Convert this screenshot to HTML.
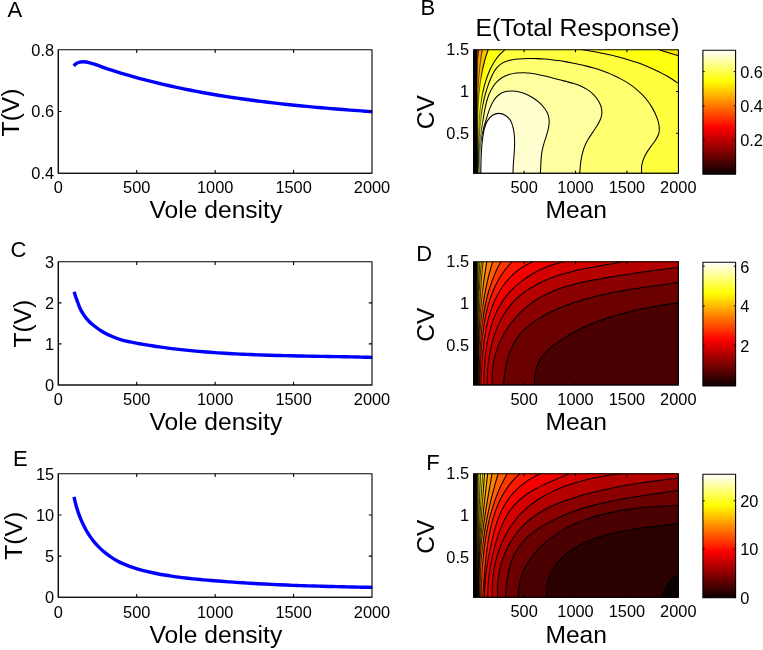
<!DOCTYPE html>
<html><head><meta charset="utf-8"><title>Figure</title>
<style>html,body{margin:0;padding:0;background:#fff;}svg{display:block;will-change:transform;}text{font-family:"Liberation Sans", sans-serif;fill:#000;}</style>
</head><body>
<svg width="763" height="650" viewBox="0 0 763 650">
<rect width="763" height="650" fill="#fff"/>
<path d="M73.6 65.8 C73.87 65.57 74.6 64.87 75.2 64.4 C75.8 63.93 76.43 63.38 77.2 63 C77.97 62.62 78.87 62.3 79.8 62.1 C80.73 61.9 81.73 61.82 82.8 61.8 C83.87 61.78 85.07 61.83 86.2 62 C87.33 62.17 88.38 62.48 89.6 62.8 C90.82 63.12 92.18 63.5 93.5 63.9 C94.82 64.3 96.1 64.7 97.5 65.2 C98.9 65.7 100.48 66.37 101.9 66.9 C103.32 67.43 104.16 67.78 106 68.4 C107.84 69.03 110.64 69.91 112.96 70.65 C115.28 71.38 117.61 72.1 119.94 72.81 C122.27 73.51 124.61 74.21 126.95 74.89 C129.28 75.57 131.62 76.24 133.97 76.89 C136.31 77.54 138.66 78.18 141.01 78.81 C143.37 79.44 145.72 80.06 148.08 80.66 C150.44 81.27 152.8 81.86 155.16 82.44 C157.52 83.02 159.89 83.59 162.26 84.14 C164.63 84.7 167 85.25 169.38 85.78 C171.75 86.31 174.13 86.84 176.51 87.35 C178.89 87.86 181.27 88.36 183.66 88.85 C186.04 89.34 188.43 89.82 190.82 90.29 C193.21 90.76 195.6 91.22 197.99 91.67 C200.39 92.12 202.78 92.56 205.18 92.99 C207.58 93.42 209.98 93.84 212.38 94.26 C214.79 94.67 217.19 95.07 219.6 95.46 C222 95.86 224.41 96.24 226.82 96.62 C229.23 97 231.64 97.36 234.05 97.72 C236.46 98.08 238.88 98.44 241.29 98.78 C243.71 99.12 246.13 99.46 248.54 99.79 C250.96 100.12 253.38 100.44 255.8 100.75 C258.22 101.07 260.64 101.37 263.07 101.67 C265.49 101.97 267.91 102.26 270.34 102.55 C272.76 102.84 275.18 103.12 277.61 103.39 C280.04 103.67 282.46 103.93 284.89 104.2 C287.32 104.46 289.75 104.71 292.17 104.97 C294.6 105.22 297.03 105.46 299.46 105.7 C301.89 105.94 304.32 106.18 306.75 106.41 C309.18 106.64 311.61 106.86 314.04 107.08 C316.47 107.31 318.9 107.52 321.33 107.73 C323.76 107.95 326.19 108.15 328.62 108.36 C331.04 108.56 333.47 108.76 335.9 108.96 C338.33 109.16 340.76 109.35 343.19 109.54 C345.62 109.73 348.05 109.92 350.47 110.1 C352.9 110.29 355.33 110.47 357.75 110.65 C360.18 110.83 362.6 111.01 365.03 111.18 C367.45 111.36 371.09 111.61 372.3 111.7" fill="none" stroke="#0000ff" stroke-width="3.4" stroke-linejoin="round" stroke-linecap="butt"/>
<rect x="58.3" y="49.75" width="313.7" height="123.45" fill="none" stroke="#000" stroke-width="1.1" stroke-linejoin="round"/>
<path d="M58.3 49.75 V173.2 H372" fill="none" stroke="#000" stroke-width="1.1" stroke-linejoin="round" stroke-opacity="0.8"/>
<path d="M136.72 173.2 v-3.2 M136.72 49.75 v3.2" stroke="#000" stroke-width="1.1" fill="none"/>
<path d="M215.15 173.2 v-3.2 M215.15 49.75 v3.2" stroke="#000" stroke-width="1.1" fill="none"/>
<path d="M293.57 173.2 v-3.2 M293.57 49.75 v3.2" stroke="#000" stroke-width="1.1" fill="none"/>
<path d="M58.3 111.47 h3.2 M372 111.47 h-3.2" stroke="#000" stroke-width="1.1" fill="none"/>
<text transform="translate(54.1 179.2) scale(0.94 1)" font-size="17.4" text-anchor="end">0.4</text>
<text transform="translate(54.1 117.47) scale(0.94 1)" font-size="17.4" text-anchor="end">0.6</text>
<text transform="translate(54.1 55.75) scale(0.94 1)" font-size="17.4" text-anchor="end">0.8</text>
<text transform="translate(58.3 193.2) scale(0.94 1)" font-size="17.4" text-anchor="middle">0</text>
<text transform="translate(136.72 193.2) scale(0.94 1)" font-size="17.4" text-anchor="middle">500</text>
<text transform="translate(215.15 193.2) scale(0.94 1)" font-size="17.4" text-anchor="middle">1000</text>
<text transform="translate(293.57 193.2) scale(0.94 1)" font-size="17.4" text-anchor="middle">1500</text>
<text transform="translate(372 193.2) scale(0.94 1)" font-size="17.4" text-anchor="middle">2000</text>
<text x="215.9" y="218" font-size="24.6" text-anchor="middle">Vole density</text>
<text x="19.5" y="112.47" font-size="24.6" text-anchor="middle" transform="rotate(-90 19.5 112.47)">T(V)</text>
<text x="7.5" y="17" font-size="22" text-anchor="start">A</text>
<path d="M74.1 291.7 C74.33 292.45 75 294.72 75.5 296.2 C76 297.68 76.38 298.63 77.1 300.6 C77.82 302.57 78.78 305.68 79.85 308 C80.92 310.32 82.11 312.42 83.5 314.5 C84.89 316.58 86.5 318.67 88.2 320.5 C89.9 322.33 91.25 323.58 93.7 325.5 C96.15 327.42 99.82 330.17 102.9 332 C105.98 333.83 108.87 335.1 112.2 336.5 C115.53 337.9 119.91 339.5 122.9 340.4 C125.89 341.3 127.71 341.43 130.12 341.91 C132.52 342.39 134.93 342.86 137.35 343.31 C139.76 343.76 142.18 344.19 144.59 344.6 C147.01 345.02 149.43 345.41 151.85 345.79 C154.28 346.18 156.7 346.54 159.13 346.89 C161.55 347.24 163.98 347.58 166.41 347.9 C168.84 348.22 171.27 348.52 173.71 348.82 C176.14 349.11 178.57 349.39 181.01 349.66 C183.45 349.92 185.89 350.18 188.33 350.42 C190.77 350.66 193.21 350.9 195.65 351.12 C198.09 351.34 200.54 351.55 202.98 351.75 C205.43 351.94 207.87 352.13 210.32 352.31 C212.77 352.49 215.22 352.66 217.67 352.83 C220.12 352.99 222.57 353.14 225.02 353.29 C227.47 353.44 229.92 353.58 232.37 353.71 C234.82 353.84 237.28 353.96 239.73 354.08 C242.18 354.2 244.64 354.31 247.09 354.42 C249.55 354.52 252 354.62 254.46 354.72 C256.92 354.81 259.37 354.9 261.83 354.98 C264.28 355.07 266.74 355.14 269.2 355.22 C271.65 355.29 274.11 355.36 276.57 355.43 C279.03 355.5 281.48 355.56 283.94 355.62 C286.4 355.68 288.86 355.74 291.32 355.79 C293.77 355.85 296.23 355.9 298.69 355.95 C301.15 356 303.6 356.04 306.06 356.09 C308.52 356.14 310.98 356.18 313.43 356.22 C315.89 356.27 318.35 356.31 320.8 356.35 C323.26 356.4 325.71 356.44 328.17 356.48 C330.63 356.52 333.08 356.57 335.53 356.61 C337.99 356.65 340.44 356.7 342.9 356.74 C345.35 356.79 347.8 356.84 350.25 356.89 C352.71 356.94 355.16 356.99 357.61 357.04 C360.06 357.1 362.51 357.15 364.96 357.21 C367.41 357.27 371.08 357.37 372.3 357.4" fill="none" stroke="#0000ff" stroke-width="3.4" stroke-linejoin="round" stroke-linecap="butt"/>
<rect x="58.3" y="261.75" width="313.7" height="123.25" fill="none" stroke="#000" stroke-width="1.1" stroke-linejoin="round"/>
<path d="M58.3 261.75 V385 H372" fill="none" stroke="#000" stroke-width="1.1" stroke-linejoin="round" stroke-opacity="0.8"/>
<path d="M136.72 385 v-3.2 M136.72 261.75 v3.2" stroke="#000" stroke-width="1.1" fill="none"/>
<path d="M215.15 385 v-3.2 M215.15 261.75 v3.2" stroke="#000" stroke-width="1.1" fill="none"/>
<path d="M293.57 385 v-3.2 M293.57 261.75 v3.2" stroke="#000" stroke-width="1.1" fill="none"/>
<path d="M58.3 343.92 h3.2 M372 343.92 h-3.2" stroke="#000" stroke-width="1.1" fill="none"/>
<path d="M58.3 302.83 h3.2 M372 302.83 h-3.2" stroke="#000" stroke-width="1.1" fill="none"/>
<text transform="translate(54.1 391) scale(0.94 1)" font-size="17.4" text-anchor="end">0</text>
<text transform="translate(54.1 349.92) scale(0.94 1)" font-size="17.4" text-anchor="end">1</text>
<text transform="translate(54.1 308.83) scale(0.94 1)" font-size="17.4" text-anchor="end">2</text>
<text transform="translate(54.1 267.75) scale(0.94 1)" font-size="17.4" text-anchor="end">3</text>
<text transform="translate(58.3 405.4) scale(0.94 1)" font-size="17.4" text-anchor="middle">0</text>
<text transform="translate(136.72 405.4) scale(0.94 1)" font-size="17.4" text-anchor="middle">500</text>
<text transform="translate(215.15 405.4) scale(0.94 1)" font-size="17.4" text-anchor="middle">1000</text>
<text transform="translate(293.57 405.4) scale(0.94 1)" font-size="17.4" text-anchor="middle">1500</text>
<text transform="translate(372 405.4) scale(0.94 1)" font-size="17.4" text-anchor="middle">2000</text>
<text x="215.9" y="430.3" font-size="24.6" text-anchor="middle">Vole density</text>
<text x="31.5" y="323.68" font-size="24.6" text-anchor="middle" transform="rotate(-90 31.5 323.68)">T(V)</text>
<text x="10.6" y="257.2" font-size="22" text-anchor="start">C</text>
<path d="M74 496.8 C74.27 497.95 75 501.42 75.6 503.73 C76.2 506.03 76.87 508.35 77.62 510.63 C78.36 512.92 79.17 515.2 80.06 517.44 C80.95 519.69 81.91 521.91 82.96 524.09 C84 526.27 85.12 528.41 86.32 530.5 C87.53 532.58 88.81 534.63 90.18 536.6 C91.55 538.57 93.01 540.49 94.54 542.32 C96.08 544.16 97.7 545.93 99.39 547.61 C101.08 549.3 102.85 550.91 104.69 552.43 C106.52 553.94 108.43 555.38 110.39 556.71 C112.36 558.05 114.39 559.29 116.47 560.44 C118.55 561.59 120.69 562.64 122.86 563.62 C125.03 564.6 127.26 565.49 129.51 566.33 C131.75 567.17 134.05 567.92 136.35 568.63 C138.65 569.34 140.98 569.99 143.32 570.6 C145.65 571.2 148.01 571.76 150.36 572.28 C152.71 572.81 155.06 573.3 157.42 573.76 C159.77 574.22 162.13 574.65 164.49 575.05 C166.85 575.45 169.21 575.83 171.57 576.18 C173.94 576.53 176.3 576.86 178.67 577.17 C181.04 577.49 183.42 577.78 185.79 578.05 C188.17 578.33 190.54 578.59 192.92 578.84 C195.3 579.08 197.68 579.31 200.07 579.54 C202.45 579.76 204.84 579.97 207.22 580.17 C209.61 580.38 211.99 580.57 214.38 580.76 C216.77 580.95 219.16 581.13 221.55 581.31 C223.94 581.49 226.33 581.66 228.72 581.83 C231.11 582.01 233.5 582.17 235.89 582.34 C238.28 582.5 240.67 582.66 243.06 582.81 C245.45 582.97 247.84 583.11 250.23 583.26 C252.62 583.4 255.01 583.54 257.4 583.68 C259.8 583.81 262.19 583.94 264.58 584.07 C266.97 584.19 269.36 584.31 271.76 584.42 C274.15 584.54 276.54 584.65 278.93 584.76 C281.33 584.86 283.72 584.96 286.11 585.06 C288.51 585.16 290.9 585.26 293.29 585.35 C295.68 585.44 298.08 585.52 300.47 585.61 C302.86 585.69 305.26 585.77 307.65 585.85 C310.05 585.92 312.44 586 314.83 586.07 C317.23 586.14 319.62 586.21 322.02 586.28 C324.41 586.34 326.8 586.41 329.2 586.47 C331.59 586.53 333.99 586.59 336.38 586.65 C338.78 586.7 341.17 586.76 343.56 586.81 C345.96 586.87 348.35 586.92 350.75 586.97 C353.14 587.02 355.54 587.07 357.93 587.12 C360.33 587.17 362.72 587.21 365.12 587.26 C367.51 587.31 371.1 587.38 372.3 587.4" fill="none" stroke="#0000ff" stroke-width="3.4" stroke-linejoin="round" stroke-linecap="butt"/>
<rect x="58.3" y="473.75" width="313.7" height="123.55" fill="none" stroke="#000" stroke-width="1.1" stroke-linejoin="round"/>
<path d="M58.3 473.75 V597.3 H372" fill="none" stroke="#000" stroke-width="1.1" stroke-linejoin="round" stroke-opacity="0.8"/>
<path d="M136.72 597.3 v-3.2 M136.72 473.75 v3.2" stroke="#000" stroke-width="1.1" fill="none"/>
<path d="M215.15 597.3 v-3.2 M215.15 473.75 v3.2" stroke="#000" stroke-width="1.1" fill="none"/>
<path d="M293.57 597.3 v-3.2 M293.57 473.75 v3.2" stroke="#000" stroke-width="1.1" fill="none"/>
<path d="M58.3 556.12 h3.2 M372 556.12 h-3.2" stroke="#000" stroke-width="1.1" fill="none"/>
<path d="M58.3 514.93 h3.2 M372 514.93 h-3.2" stroke="#000" stroke-width="1.1" fill="none"/>
<text transform="translate(54.1 603.3) scale(0.94 1)" font-size="17.4" text-anchor="end">0</text>
<text transform="translate(54.1 562.12) scale(0.94 1)" font-size="17.4" text-anchor="end">5</text>
<text transform="translate(54.1 520.93) scale(0.94 1)" font-size="17.4" text-anchor="end">10</text>
<text transform="translate(54.1 479.75) scale(0.94 1)" font-size="17.4" text-anchor="end">15</text>
<text transform="translate(58.3 617.5) scale(0.94 1)" font-size="17.4" text-anchor="middle">0</text>
<text transform="translate(136.72 617.5) scale(0.94 1)" font-size="17.4" text-anchor="middle">500</text>
<text transform="translate(215.15 617.5) scale(0.94 1)" font-size="17.4" text-anchor="middle">1000</text>
<text transform="translate(293.57 617.5) scale(0.94 1)" font-size="17.4" text-anchor="middle">1500</text>
<text transform="translate(372 617.5) scale(0.94 1)" font-size="17.4" text-anchor="middle">2000</text>
<text x="215.9" y="642.5" font-size="24.6" text-anchor="middle">Vole density</text>
<text x="21.7" y="535.82" font-size="24.6" text-anchor="middle" transform="rotate(-90 21.7 535.82)">T(V)</text>
<text x="12.9" y="465.9" font-size="22" text-anchor="start">E</text>
<defs><linearGradient id="hot" x1="0" y1="1" x2="0" y2="0"><stop offset="0" stop-color="#0b0000"/><stop offset="0.375" stop-color="#ff0000"/><stop offset="0.75" stop-color="#ffff00"/><stop offset="1" stop-color="#ffffff"/></linearGradient></defs>
<clipPath id="clipB"><rect x="473.6" y="49.75" width="204.85" height="123.45"/></clipPath>
<g clip-path="url(#clipB)">
<rect x="473.6" y="49.75" width="204.85" height="123.45" fill="#ffdf00"/>
<defs><linearGradient id="bband" x1="0" y1="0" x2="1" y2="0"><stop offset="0" stop-color="#000"/><stop offset="0.5" stop-color="#100000"/><stop offset="0.62" stop-color="#a04000"/><stop offset="1" stop-color="#ff9900"/></linearGradient></defs>
<rect x="473.5" y="49" width="7" height="124" fill="url(#bband)"/>
<path d="M476.8 173 C476.82 162.5 476.78 128.27 476.9 110 C477.02 91.73 477.12 73.57 477.5 63.4 C477.88 53.23 478.92 51.4 479.2 49 L500 49 L500 173 Z" fill="#ff9f00" stroke="none"/>
<path d="M477 173 C477.02 171.71 477.08 167.83 477.11 165.24 C477.13 162.66 477.15 160.07 477.16 157.48 C477.16 154.89 477.16 152.3 477.16 149.71 C477.16 147.12 477.16 144.53 477.15 141.94 C477.15 139.35 477.14 136.76 477.14 134.17 C477.14 131.58 477.14 128.99 477.15 126.4 C477.16 123.81 477.17 121.21 477.19 118.62 C477.21 116.03 477.24 113.44 477.29 110.85 C477.33 108.27 477.39 105.68 477.46 103.09 C477.53 100.5 477.62 97.92 477.72 95.33 C477.83 92.75 477.95 90.16 478.1 87.58 C478.24 85 478.41 82.42 478.6 79.84 C478.8 77.26 479.01 74.68 479.26 72.11 C479.5 69.53 479.77 66.96 480.08 64.39 C480.38 61.82 480.72 59.25 481.09 56.69 C481.46 54.12 482.1 50.28 482.3 49 L500 49 L500 173 Z" fill="#ffbf00" stroke="none"/>
<path d="M477.3 173 C477.33 171.71 477.44 167.84 477.48 165.25 C477.53 162.65 477.55 160.06 477.57 157.45 C477.58 154.85 477.58 152.24 477.58 149.63 C477.58 147.02 477.57 144.41 477.57 141.79 C477.57 139.17 477.56 136.55 477.56 133.93 C477.57 131.31 477.57 128.69 477.6 126.07 C477.63 123.45 477.66 120.83 477.72 118.22 C477.78 115.6 477.85 112.98 477.95 110.37 C478.05 107.76 478.18 105.15 478.34 102.54 C478.5 99.94 478.68 97.34 478.91 94.75 C479.14 92.15 479.4 89.56 479.72 86.98 C480.03 84.4 480.38 81.83 480.78 79.27 C481.19 76.7 481.64 74.15 482.15 71.6 C482.66 69.06 483.22 66.52 483.85 64 C484.47 61.47 485.16 58.96 485.92 56.46 C486.68 53.96 487.99 50.24 488.4 49 L679 49 L679 173 Z" fill="#ffff10" stroke="none"/>
<path d="M657.2 49 C658.83 49.53 663.43 51.07 667 52.2 C670.57 53.33 676.67 55.2 678.6 55.8 L679 49 Z" fill="#ffdf00" stroke="none"/>
<path d="M477.6 173 C477.66 171.76 477.87 168.04 477.97 165.53 C478.07 163.02 478.14 160.49 478.2 157.95 C478.27 155.4 478.31 152.84 478.36 150.26 C478.41 147.69 478.44 145.1 478.49 142.51 C478.54 139.92 478.59 137.32 478.66 134.72 C478.73 132.11 478.81 129.51 478.92 126.9 C479.04 124.3 479.17 121.7 479.34 119.1 C479.51 116.51 479.71 113.92 479.96 111.34 C480.21 108.76 480.5 106.19 480.85 103.64 C481.2 101.09 481.59 98.55 482.06 96.03 C482.52 93.51 483.04 91.01 483.65 88.53 C484.25 86.06 484.92 83.6 485.67 81.18 C486.43 78.76 487.26 76.35 488.2 74 C489.14 71.65 490.16 69.33 491.33 67.08 C492.49 64.84 493.75 62.64 495.17 60.54 C496.59 58.43 498.13 56.39 499.86 54.47 C501.58 52.55 504.56 49.91 505.5 49 L578 49 C579.25 49.21 583.02 49.81 585.53 50.24 C588.04 50.67 590.56 51.1 593.08 51.57 C595.59 52.03 598.11 52.5 600.63 53.01 C603.14 53.51 605.66 54.03 608.16 54.59 C610.67 55.14 613.17 55.72 615.66 56.33 C618.15 56.94 620.63 57.58 623.1 58.26 C625.57 58.94 628.04 59.66 630.48 60.41 C632.92 61.17 635.35 61.96 637.76 62.8 C640.17 63.64 642.57 64.52 644.94 65.46 C647.31 66.39 649.67 67.37 652 68.4 C654.32 69.44 656.63 70.52 658.91 71.66 C661.18 72.81 663.44 74 665.66 75.27 C667.88 76.53 670.07 77.85 672.23 79.24 C674.38 80.63 677.54 82.87 678.6 83.6 L679 173 Z" fill="#ffff40" stroke="none"/>
<path d="M477.9 173 C477.95 171.8 478.12 168.2 478.22 165.8 C478.31 163.4 478.39 161 478.47 158.6 C478.55 156.21 478.62 153.81 478.7 151.41 C478.78 149.02 478.86 146.63 478.96 144.24 C479.05 141.84 479.15 139.46 479.28 137.07 C479.41 134.68 479.55 132.3 479.72 129.92 C479.89 127.54 480.09 125.17 480.32 122.8 C480.55 120.43 480.81 118.06 481.12 115.7 C481.43 113.33 481.78 110.98 482.18 108.62 C482.58 106.27 483.02 103.92 483.53 101.58 C484.04 99.24 484.59 96.9 485.22 94.58 C485.85 92.25 486.54 89.92 487.3 87.61 C488.07 85.29 488.89 82.97 489.81 80.69 C490.74 78.4 491.7 76.05 492.85 73.92 C494.01 71.8 495.24 69.67 496.73 67.92 C498.22 66.17 499.9 64.62 501.8 63.4 C503.7 62.19 505.87 61.35 508.11 60.65 C510.36 59.96 512.81 59.56 515.24 59.23 C517.67 58.9 520.22 58.78 522.69 58.66 C525.16 58.54 527.63 58.5 530.06 58.5 C532.48 58.49 534.88 58.53 537.26 58.62 C539.64 58.71 541.99 58.84 544.34 59.02 C546.69 59.19 549.02 59.41 551.35 59.66 C553.68 59.92 555.99 60.22 558.32 60.55 C560.64 60.88 562.96 61.24 565.3 61.64 C567.64 62.04 569.98 62.47 572.34 62.94 C574.69 63.4 577.07 63.89 579.44 64.43 C581.81 64.96 584.19 65.52 586.56 66.13 C588.93 66.74 591.3 67.38 593.66 68.08 C596.01 68.77 598.35 69.51 600.67 70.3 C602.98 71.09 605.29 71.92 607.55 72.81 C609.81 73.7 612.05 74.65 614.25 75.65 C616.44 76.66 618.6 77.72 620.71 78.84 C622.82 79.97 624.88 81.15 626.89 82.41 C628.89 83.67 630.84 84.99 632.73 86.38 C634.61 87.78 636.43 89.24 638.18 90.79 C639.92 92.33 641.6 93.95 643.19 95.65 C644.78 97.35 646.29 99.13 647.71 101 C649.12 102.87 650.46 104.81 651.68 106.86 C652.91 108.9 654.05 111.03 655.07 113.26 C656.08 115.48 657.08 117.85 657.78 120.21 C658.49 122.57 659.16 125.07 659.29 127.41 C659.41 129.76 659.2 132.09 658.54 134.26 C657.88 136.44 656.58 138.44 655.32 140.46 C654.05 142.48 652.36 144.39 650.95 146.37 C649.53 148.36 648.04 150.33 646.82 152.39 C645.6 154.46 644.46 156.54 643.61 158.74 C642.77 160.93 642.07 163.18 641.73 165.56 C641.4 167.93 641.62 171.76 641.6 173 Z" fill="#ffff70" stroke="none"/>
<path d="M479 173 C478.95 171.74 478.76 167.94 478.72 165.46 C478.68 162.98 478.7 160.54 478.76 158.12 C478.82 155.7 478.94 153.31 479.09 150.92 C479.24 148.54 479.43 146.18 479.66 143.82 C479.89 141.45 480.16 139.1 480.45 136.74 C480.75 134.38 481.08 132.03 481.43 129.65 C481.78 127.28 482.16 124.9 482.55 122.49 C482.95 120.08 483.36 117.64 483.8 115.19 C484.24 112.75 484.67 110.25 485.2 107.8 C485.72 105.35 486.28 102.88 486.97 100.51 C487.67 98.14 488.43 95.78 489.38 93.57 C490.33 91.35 491.38 89.19 492.66 87.22 C493.94 85.24 495.4 83.35 497.06 81.69 C498.72 80.04 500.6 78.52 502.63 77.31 C504.66 76.09 506.93 75.12 509.23 74.4 C511.54 73.68 514.05 73.27 516.46 72.98 C518.88 72.69 521.33 72.63 523.73 72.67 C526.14 72.71 528.53 72.93 530.91 73.22 C533.29 73.51 535.65 73.95 538.01 74.42 C540.38 74.89 542.74 75.47 545.1 76.05 C547.47 76.63 549.83 77.29 552.21 77.92 C554.58 78.54 556.97 79.19 559.37 79.8 C561.77 80.42 564.2 80.97 566.59 81.6 C568.98 82.22 571.39 82.82 573.73 83.55 C576.06 84.29 578.38 85.05 580.59 86.01 C582.81 86.97 584.98 88.02 587.01 89.32 C589.04 90.62 591.02 92.12 592.78 93.8 C594.54 95.49 596.22 97.43 597.55 99.43 C598.88 101.42 600.04 103.61 600.77 105.78 C601.5 107.95 601.94 110.23 601.9 112.44 C601.87 114.64 601.32 116.85 600.55 119.02 C599.77 121.19 598.52 123.33 597.26 125.48 C596 127.62 594.43 129.74 593 131.88 C591.58 134.02 590.01 136.15 588.72 138.31 C587.44 140.46 586.27 142.63 585.3 144.83 C584.33 147.03 583.56 149.25 582.9 151.51 C582.23 153.77 581.74 156.06 581.31 158.4 C580.89 160.73 580.6 163.11 580.35 165.54 C580.1 167.98 579.89 171.76 579.8 173 Z" fill="#ffff9f" stroke="none"/>
<path d="M480 173 C479.95 171.75 479.75 168.03 479.7 165.53 C479.65 163.03 479.65 160.52 479.71 158.02 C479.77 155.52 479.87 153.02 480.05 150.53 C480.23 148.05 480.46 145.57 480.77 143.11 C481.08 140.66 481.46 138.22 481.91 135.81 C482.37 133.41 482.9 131.04 483.5 128.68 C484.1 126.32 484.8 124.03 485.52 121.64 C486.23 119.24 486.96 116.75 487.78 114.3 C488.6 111.84 489.42 109.25 490.45 106.9 C491.47 104.55 492.55 102.19 493.91 100.2 C495.27 98.21 496.78 96.35 498.6 94.96 C500.42 93.57 502.59 92.54 504.84 91.87 C507.08 91.2 509.64 90.95 512.09 90.95 C514.54 90.96 517.08 91.32 519.53 91.9 C521.98 92.48 524.45 93.36 526.79 94.42 C529.13 95.47 531.45 96.78 533.59 98.2 C535.74 99.63 537.82 101.26 539.67 102.97 C541.52 104.69 543.29 106.53 544.68 108.48 C546.08 110.42 547.31 112.48 548.06 114.63 C548.82 116.79 549.17 119.06 549.21 121.39 C549.26 123.72 548.82 126.17 548.33 128.62 C547.84 131.07 547.01 133.6 546.27 136.1 C545.53 138.6 544.59 141.14 543.89 143.61 C543.19 146.09 542.53 148.54 542.08 150.96 C541.62 153.37 541.4 155.7 541.18 158.1 C540.97 160.5 540.92 162.86 540.79 165.34 C540.66 167.83 540.47 171.72 540.4 173 Z" fill="#ffffcf" stroke="none"/>
<path d="M480.8 173 C480.82 171.71 480.88 167.77 480.94 165.26 C480.99 162.75 481.04 160.34 481.13 157.92 C481.22 155.5 481.31 153.15 481.47 150.74 C481.62 148.33 481.8 145.94 482.06 143.47 C482.31 140.99 482.58 138.44 482.99 135.86 C483.4 133.28 483.8 130.51 484.53 128.01 C485.25 125.51 486.07 122.95 487.35 120.87 C488.63 118.78 490.28 116.77 492.2 115.52 C494.12 114.27 496.63 113.37 498.86 113.36 C501.09 113.35 503.6 114.2 505.57 115.44 C507.53 116.68 509.38 118.69 510.65 120.79 C511.93 122.89 512.6 125.57 513.22 128.05 C513.83 130.54 514.1 133.15 514.33 135.68 C514.56 138.2 514.61 140.7 514.62 143.2 C514.62 145.7 514.49 148.17 514.35 150.65 C514.22 153.14 513.99 155.6 513.81 158.08 C513.63 160.56 513.41 163.03 513.27 165.52 C513.14 168 513.05 171.75 513 173 Z" fill="#ffffff" stroke="none"/>
<clipPath id="bzz1"><rect x="470" y="48.75" width="10.6" height="125.45"/></clipPath>
<clipPath id="bzz2"><rect x="480.6" y="48.75" width="1.6" height="125.45"/></clipPath>
<clipPath id="bzz3"><rect x="482.2" y="48.75" width="220" height="125.45"/></clipPath>
<defs><path id="bzL" d="M480 173 C479.95 171.75 479.75 168.03 479.7 165.53 C479.65 163.03 479.65 160.52 479.71 158.02 C479.77 155.52 479.87 153.02 480.05 150.53 C480.23 148.05 480.46 145.57 480.77 143.11 C481.08 140.66 481.46 138.22 481.91 135.81 C482.37 133.41 482.9 131.04 483.5 128.68 C484.1 126.32 484.8 124.03 485.52 121.64 C486.23 119.24 486.96 116.75 487.78 114.3 C488.6 111.84 489.42 109.25 490.45 106.9 C491.47 104.55 492.55 102.19 493.91 100.2 C495.27 98.21 496.78 96.35 498.6 94.96 C500.42 93.57 502.59 92.54 504.84 91.87 C507.08 91.2 509.64 90.95 512.09 90.95 C514.54 90.96 517.08 91.32 519.53 91.9 C521.98 92.48 524.45 93.36 526.79 94.42 C529.13 95.47 531.45 96.78 533.59 98.2 C535.74 99.63 537.82 101.26 539.67 102.97 C541.52 104.69 543.29 106.53 544.68 108.48 C546.08 110.42 547.31 112.48 548.06 114.63 C548.82 116.79 549.17 119.06 549.21 121.39 C549.26 123.72 548.82 126.17 548.33 128.62 C547.84 131.07 547.01 133.6 546.27 136.1 C545.53 138.6 544.59 141.14 543.89 143.61 C543.19 146.09 542.53 148.54 542.08 150.96 C541.62 153.37 541.4 155.7 541.18 158.1 C540.97 160.5 540.92 162.86 540.79 165.34 C540.66 167.83 540.47 171.72 540.4 173 M479 173 C478.95 171.74 478.76 167.94 478.72 165.46 C478.68 162.98 478.7 160.54 478.76 158.12 C478.82 155.7 478.94 153.31 479.09 150.92 C479.24 148.54 479.43 146.18 479.66 143.82 C479.89 141.45 480.16 139.1 480.45 136.74 C480.75 134.38 481.08 132.03 481.43 129.65 C481.78 127.28 482.16 124.9 482.55 122.49 C482.95 120.08 483.36 117.64 483.8 115.19 C484.24 112.75 484.67 110.25 485.2 107.8 C485.72 105.35 486.28 102.88 486.97 100.51 C487.67 98.14 488.43 95.78 489.38 93.57 C490.33 91.35 491.38 89.19 492.66 87.22 C493.94 85.24 495.4 83.35 497.06 81.69 C498.72 80.04 500.6 78.52 502.63 77.31 C504.66 76.09 506.93 75.12 509.23 74.4 C511.54 73.68 514.05 73.27 516.46 72.98 C518.88 72.69 521.33 72.63 523.73 72.67 C526.14 72.71 528.53 72.93 530.91 73.22 C533.29 73.51 535.65 73.95 538.01 74.42 C540.38 74.89 542.74 75.47 545.1 76.05 C547.47 76.63 549.83 77.29 552.21 77.92 C554.58 78.54 556.97 79.19 559.37 79.8 C561.77 80.42 564.2 80.97 566.59 81.6 C568.98 82.22 571.39 82.82 573.73 83.55 C576.06 84.29 578.38 85.05 580.59 86.01 C582.81 86.97 584.98 88.02 587.01 89.32 C589.04 90.62 591.02 92.12 592.78 93.8 C594.54 95.49 596.22 97.43 597.55 99.43 C598.88 101.42 600.04 103.61 600.77 105.78 C601.5 107.95 601.94 110.23 601.9 112.44 C601.87 114.64 601.32 116.85 600.55 119.02 C599.77 121.19 598.52 123.33 597.26 125.48 C596 127.62 594.43 129.74 593 131.88 C591.58 134.02 590.01 136.15 588.72 138.31 C587.44 140.46 586.27 142.63 585.3 144.83 C584.33 147.03 583.56 149.25 582.9 151.51 C582.23 153.77 581.74 156.06 581.31 158.4 C580.89 160.73 580.6 163.11 580.35 165.54 C580.1 167.98 579.89 171.76 579.8 173 M477.9 173 C477.95 171.8 478.12 168.2 478.22 165.8 C478.31 163.4 478.39 161 478.47 158.6 C478.55 156.21 478.62 153.81 478.7 151.41 C478.78 149.02 478.86 146.63 478.96 144.24 C479.05 141.84 479.15 139.46 479.28 137.07 C479.41 134.68 479.55 132.3 479.72 129.92 C479.89 127.54 480.09 125.17 480.32 122.8 C480.55 120.43 480.81 118.06 481.12 115.7 C481.43 113.33 481.78 110.98 482.18 108.62 C482.58 106.27 483.02 103.92 483.53 101.58 C484.04 99.24 484.59 96.9 485.22 94.58 C485.85 92.25 486.54 89.92 487.3 87.61 C488.07 85.29 488.89 82.97 489.81 80.69 C490.74 78.4 491.7 76.05 492.85 73.92 C494.01 71.8 495.24 69.67 496.73 67.92 C498.22 66.17 499.9 64.62 501.8 63.4 C503.7 62.19 505.87 61.35 508.11 60.65 C510.36 59.96 512.81 59.56 515.24 59.23 C517.67 58.9 520.22 58.78 522.69 58.66 C525.16 58.54 527.63 58.5 530.06 58.5 C532.48 58.49 534.88 58.53 537.26 58.62 C539.64 58.71 541.99 58.84 544.34 59.02 C546.69 59.19 549.02 59.41 551.35 59.66 C553.68 59.92 555.99 60.22 558.32 60.55 C560.64 60.88 562.96 61.24 565.3 61.64 C567.64 62.04 569.98 62.47 572.34 62.94 C574.69 63.4 577.07 63.89 579.44 64.43 C581.81 64.96 584.19 65.52 586.56 66.13 C588.93 66.74 591.3 67.38 593.66 68.08 C596.01 68.77 598.35 69.51 600.67 70.3 C602.98 71.09 605.29 71.92 607.55 72.81 C609.81 73.7 612.05 74.65 614.25 75.65 C616.44 76.66 618.6 77.72 620.71 78.84 C622.82 79.97 624.88 81.15 626.89 82.41 C628.89 83.67 630.84 84.99 632.73 86.38 C634.61 87.78 636.43 89.24 638.18 90.79 C639.92 92.33 641.6 93.95 643.19 95.65 C644.78 97.35 646.29 99.13 647.71 101 C649.12 102.87 650.46 104.81 651.68 106.86 C652.91 108.9 654.05 111.03 655.07 113.26 C656.08 115.48 657.08 117.85 657.78 120.21 C658.49 122.57 659.16 125.07 659.29 127.41 C659.41 129.76 659.2 132.09 658.54 134.26 C657.88 136.44 656.58 138.44 655.32 140.46 C654.05 142.48 652.36 144.39 650.95 146.37 C649.53 148.36 648.04 150.33 646.82 152.39 C645.6 154.46 644.46 156.54 643.61 158.74 C642.77 160.93 642.07 163.18 641.73 165.56 C641.4 167.93 641.62 171.76 641.6 173 M477.6 173 C477.66 171.76 477.87 168.04 477.97 165.53 C478.07 163.02 478.14 160.49 478.2 157.95 C478.27 155.4 478.31 152.84 478.36 150.26 C478.41 147.69 478.44 145.1 478.49 142.51 C478.54 139.92 478.59 137.32 478.66 134.72 C478.73 132.11 478.81 129.51 478.92 126.9 C479.04 124.3 479.17 121.7 479.34 119.1 C479.51 116.51 479.71 113.92 479.96 111.34 C480.21 108.76 480.5 106.19 480.85 103.64 C481.2 101.09 481.59 98.55 482.06 96.03 C482.52 93.51 483.04 91.01 483.65 88.53 C484.25 86.06 484.92 83.6 485.67 81.18 C486.43 78.76 487.26 76.35 488.2 74 C489.14 71.65 490.16 69.33 491.33 67.08 C492.49 64.84 493.75 62.64 495.17 60.54 C496.59 58.43 498.13 56.39 499.86 54.47 C501.58 52.55 504.56 49.91 505.5 49 M477.3 173 C477.33 171.71 477.44 167.84 477.48 165.25 C477.53 162.65 477.55 160.06 477.57 157.45 C477.58 154.85 477.58 152.24 477.58 149.63 C477.58 147.02 477.57 144.41 477.57 141.79 C477.57 139.17 477.56 136.55 477.56 133.93 C477.57 131.31 477.57 128.69 477.6 126.07 C477.63 123.45 477.66 120.83 477.72 118.22 C477.78 115.6 477.85 112.98 477.95 110.37 C478.05 107.76 478.18 105.15 478.34 102.54 C478.5 99.94 478.68 97.34 478.91 94.75 C479.14 92.15 479.4 89.56 479.72 86.98 C480.03 84.4 480.38 81.83 480.78 79.27 C481.19 76.7 481.64 74.15 482.15 71.6 C482.66 69.06 483.22 66.52 483.85 64 C484.47 61.47 485.16 58.96 485.92 56.46 C486.68 53.96 487.99 50.24 488.4 49 M477 173 C477.02 171.71 477.08 167.83 477.11 165.24 C477.13 162.66 477.15 160.07 477.16 157.48 C477.16 154.89 477.16 152.3 477.16 149.71 C477.16 147.12 477.16 144.53 477.15 141.94 C477.15 139.35 477.14 136.76 477.14 134.17 C477.14 131.58 477.14 128.99 477.15 126.4 C477.16 123.81 477.17 121.21 477.19 118.62 C477.21 116.03 477.24 113.44 477.29 110.85 C477.33 108.27 477.39 105.68 477.46 103.09 C477.53 100.5 477.62 97.92 477.72 95.33 C477.83 92.75 477.95 90.16 478.1 87.58 C478.24 85 478.41 82.42 478.6 79.84 C478.8 77.26 479.01 74.68 479.26 72.11 C479.5 69.53 479.77 66.96 480.08 64.39 C480.38 61.82 480.72 59.25 481.09 56.69 C481.46 54.12 482.1 50.28 482.3 49 M476.8 173 C476.82 162.5 476.78 128.27 476.9 110 C477.02 91.73 477.12 73.57 477.5 63.4 C477.88 53.23 478.92 51.4 479.2 49"/></defs>
<g clip-path="url(#bzz1)"><use href="#bzL" fill="none" stroke="#000" stroke-linejoin="round" stroke-width="0.55"/></g>
<g clip-path="url(#bzz2)"><use href="#bzL" fill="none" stroke="#000" stroke-linejoin="round" stroke-width="0.8"/></g>
<g clip-path="url(#bzz3)"><use href="#bzL" fill="none" stroke="#000" stroke-linejoin="round" stroke-width="1.05"/></g>
<path d="M480.8 173 C480.82 171.71 480.88 167.77 480.94 165.26 C480.99 162.75 481.04 160.34 481.13 157.92 C481.22 155.5 481.31 153.15 481.47 150.74 C481.62 148.33 481.8 145.94 482.06 143.47 C482.31 140.99 482.58 138.44 482.99 135.86 C483.4 133.28 483.8 130.51 484.53 128.01 C485.25 125.51 486.07 122.95 487.35 120.87 C488.63 118.78 490.28 116.77 492.2 115.52 C494.12 114.27 496.63 113.37 498.86 113.36 C501.09 113.35 503.6 114.2 505.57 115.44 C507.53 116.68 509.38 118.69 510.65 120.79 C511.93 122.89 512.6 125.57 513.22 128.05 C513.83 130.54 514.1 133.15 514.33 135.68 C514.56 138.2 514.61 140.7 514.62 143.2 C514.62 145.7 514.49 148.17 514.35 150.65 C514.22 153.14 513.99 155.6 513.81 158.08 C513.63 160.56 513.41 163.03 513.27 165.52 C513.14 168 513.05 171.75 513 173 M578 49 C579.25 49.21 583.02 49.81 585.53 50.24 C588.04 50.67 590.56 51.1 593.08 51.57 C595.59 52.03 598.11 52.5 600.63 53.01 C603.14 53.51 605.66 54.03 608.16 54.59 C610.67 55.14 613.17 55.72 615.66 56.33 C618.15 56.94 620.63 57.58 623.1 58.26 C625.57 58.94 628.04 59.66 630.48 60.41 C632.92 61.17 635.35 61.96 637.76 62.8 C640.17 63.64 642.57 64.52 644.94 65.46 C647.31 66.39 649.67 67.37 652 68.4 C654.32 69.44 656.63 70.52 658.91 71.66 C661.18 72.81 663.44 74 665.66 75.27 C667.88 76.53 670.07 77.85 672.23 79.24 C674.38 80.63 677.54 82.87 678.6 83.6 M657.2 49 C658.83 49.53 663.43 51.07 667 52.2 C670.57 53.33 676.67 55.2 678.6 55.8" fill="none" stroke="#000" stroke-width="1.05" stroke-linejoin="round"/>
<path d="M473 49 L476.7 49 L477.0 110 L477.8 174 L473 174 Z" fill="#000"/>
</g>
<rect x="473.6" y="49.75" width="204.85" height="123.45" fill="none" stroke="#000" stroke-width="1.1" stroke-linejoin="round"/>
<path d="M473.6 49.75 V173.2 H678.45" fill="none" stroke="#000" stroke-width="1.1" stroke-linejoin="round" stroke-opacity="0.8"/>
<path d="M524.1 173.2 v-2.4 M524.1 49.75 v2.4" stroke="#000" stroke-width="1.1" fill="none"/>
<path d="M575.5 173.2 v-2.4 M575.5 49.75 v2.4" stroke="#000" stroke-width="1.1" fill="none"/>
<path d="M626.9 173.2 v-2.4 M626.9 49.75 v2.4" stroke="#000" stroke-width="1.1" fill="none"/>
<path d="M473.6 91.5 h2.4 M678.45 91.5 h-2.4" stroke="#000" stroke-width="1.1" fill="none"/>
<path d="M473.6 133.25 h2.4 M678.45 133.25 h-2.4" stroke="#000" stroke-width="1.1" fill="none"/>
<text transform="translate(469.1 55.45) scale(0.94 1)" font-size="17.4" text-anchor="end">1.5</text>
<text transform="translate(469.1 97.2) scale(0.94 1)" font-size="17.4" text-anchor="end">1</text>
<text transform="translate(469.1 138.95) scale(0.94 1)" font-size="17.4" text-anchor="end">0.5</text>
<text transform="translate(524.1 192.6) scale(0.94 1)" font-size="17.4" text-anchor="middle">500</text>
<text transform="translate(575.5 192.6) scale(0.94 1)" font-size="17.4" text-anchor="middle">1000</text>
<text transform="translate(626.9 192.6) scale(0.94 1)" font-size="17.4" text-anchor="middle">1500</text>
<text transform="translate(678.3 192.6) scale(0.94 1)" font-size="17.4" text-anchor="middle">2000</text>
<text x="576.2" y="218" font-size="24.6" text-anchor="middle">Mean</text>
<text x="433.6" y="112.17" font-size="24.6" text-anchor="middle" transform="rotate(-90 433.6 112.17)">CV</text>
<text x="420.4" y="14.9" font-size="22" text-anchor="start">B</text>
<text x="577.4" y="35.5" font-size="24.8" text-anchor="middle">E(Total Response)</text>
<rect x="702.9" y="50.2" width="32.7" height="123.9" fill="url(#hot)"/>
<rect x="702.9" y="50.2" width="32.7" height="123.9" fill="none" stroke="#000" stroke-width="1.1" stroke-linejoin="round"/>
<path d="M702.9 71.6 h1.8 M735.6 71.6 h-1.8" stroke="#000" stroke-width="1" fill="none"/>
<text transform="translate(740.2 78) scale(0.94 1)" font-size="17.4" text-anchor="start">0.6</text>
<path d="M702.9 105.8 h1.8 M735.6 105.8 h-1.8" stroke="#000" stroke-width="1" fill="none"/>
<text transform="translate(740.2 112.2) scale(0.94 1)" font-size="17.4" text-anchor="start">0.4</text>
<path d="M702.9 140 h1.8 M735.6 140 h-1.8" stroke="#000" stroke-width="1" fill="none"/>
<text transform="translate(740.2 146.4) scale(0.94 1)" font-size="17.4" text-anchor="start">0.2</text>
<clipPath id="clipD"><rect x="473.6" y="261.75" width="204.85" height="123.25"/></clipPath>
<g clip-path="url(#clipD)">
<rect x="473.6" y="261.75" width="204.85" height="123.25" fill="#000"/>
<defs><linearGradient id="dband" x1="0" y1="0" x2="1" y2="0"><stop offset="0" stop-color="#000"/><stop offset="0.4" stop-color="#000"/><stop offset="0.6" stop-color="#3a3600"/><stop offset="1" stop-color="#ffff10"/></linearGradient></defs>
<rect x="473.5" y="261.25" width="7" height="124.25" fill="url(#dband)"/>
<path d="M477 385.4 C477 384.11 477 380.23 477.01 377.65 C477.01 375.06 477.01 372.48 477.02 369.9 C477.02 367.31 477.03 364.73 477.04 362.14 C477.05 359.56 477.06 356.97 477.08 354.39 C477.09 351.8 477.11 349.22 477.13 346.63 C477.15 344.05 477.18 341.47 477.21 338.88 C477.24 336.3 477.27 333.71 477.31 331.13 C477.34 328.54 477.39 325.96 477.43 323.37 C477.48 320.79 477.54 318.21 477.59 315.62 C477.65 313.04 477.72 310.45 477.79 307.87 C477.86 305.29 477.94 302.7 478.02 300.12 C478.11 297.54 478.2 294.96 478.3 292.37 C478.4 289.79 478.51 287.21 478.62 284.63 C478.74 282.04 478.86 279.46 478.99 276.88 C479.13 274.3 479.27 271.72 479.42 269.14 C479.57 266.56 479.82 262.69 479.9 261.4 L679 261.25 L679 385.5 L477 385.5 Z" fill="#ffdf00" stroke="none"/>
<path d="M477.2 385.4 C477.21 384.11 477.23 380.23 477.24 377.65 C477.25 375.06 477.27 372.48 477.29 369.89 C477.3 367.31 477.32 364.72 477.34 362.13 C477.36 359.55 477.39 356.96 477.41 354.38 C477.44 351.79 477.47 349.21 477.51 346.62 C477.54 344.03 477.58 341.45 477.63 338.86 C477.67 336.28 477.72 333.69 477.78 331.11 C477.83 328.52 477.89 325.94 477.96 323.35 C478.03 320.77 478.11 318.18 478.19 315.6 C478.28 313.01 478.37 310.43 478.47 307.85 C478.57 305.26 478.68 302.68 478.8 300.1 C478.91 297.51 479.04 294.93 479.18 292.35 C479.32 289.77 479.47 287.19 479.63 284.61 C479.79 282.03 479.96 279.45 480.14 276.87 C480.33 274.29 480.52 271.71 480.73 269.13 C480.94 266.55 481.29 262.69 481.4 261.4 L679 261.25 L679 385.5 L477.2 385.5 Z" fill="#ffbf00" stroke="none"/>
<path d="M477.5 385.4 C477.5 384.11 477.48 380.23 477.48 377.64 C477.48 375.05 477.49 372.46 477.51 369.88 C477.53 367.29 477.56 364.7 477.59 362.12 C477.63 359.53 477.67 356.94 477.72 354.36 C477.78 351.77 477.84 349.18 477.9 346.6 C477.97 344.01 478.05 341.43 478.13 338.84 C478.22 336.26 478.31 333.67 478.41 331.09 C478.51 328.5 478.62 325.92 478.73 323.33 C478.85 320.75 478.97 318.16 479.1 315.58 C479.24 313 479.37 310.41 479.52 307.83 C479.67 305.25 479.82 302.67 479.99 300.08 C480.15 297.5 480.32 294.92 480.5 292.34 C480.68 289.76 480.86 287.18 481.06 284.6 C481.25 282.02 481.45 279.44 481.66 276.86 C481.87 274.28 482.08 271.71 482.31 269.13 C482.53 266.55 482.88 262.69 483 261.4 L679 261.25 L679 385.5 L477.5 385.5 Z" fill="#ff9f00" stroke="none"/>
<path d="M477.8 385.4 C477.8 384.1 477.8 380.21 477.81 377.62 C477.82 375.02 477.84 372.43 477.87 369.83 C477.9 367.24 477.94 364.64 477.99 362.05 C478.04 359.46 478.1 356.86 478.17 354.27 C478.24 351.68 478.32 349.08 478.41 346.49 C478.5 343.9 478.61 341.31 478.72 338.72 C478.84 336.12 478.97 333.53 479.12 330.94 C479.26 328.36 479.42 325.77 479.59 323.18 C479.76 320.59 479.95 318.01 480.15 315.42 C480.35 312.84 480.56 310.25 480.8 307.67 C481.03 305.09 481.28 302.51 481.54 299.93 C481.81 297.35 482.09 294.78 482.39 292.2 C482.69 289.63 483.01 287.05 483.35 284.48 C483.68 281.91 484.04 279.34 484.41 276.77 C484.79 274.21 485.18 271.64 485.6 269.08 C486.01 266.52 486.68 262.68 486.9 261.4 L679 261.25 L679 385.5 L477.8 385.5 Z" fill="#ff8000" stroke="none"/>
<path d="M478.2 385.4 C478.21 384.1 478.22 380.19 478.24 377.59 C478.27 374.98 478.3 372.37 478.34 369.76 C478.38 367.15 478.43 364.54 478.5 361.93 C478.57 359.32 478.65 356.7 478.75 354.09 C478.85 351.48 478.96 348.86 479.09 346.25 C479.22 343.64 479.36 341.03 479.53 338.42 C479.7 335.81 479.89 333.2 480.1 330.59 C480.31 327.99 480.54 325.38 480.8 322.79 C481.06 320.19 481.34 317.59 481.65 315 C481.96 312.4 482.29 309.81 482.65 307.23 C483.02 304.65 483.41 302.07 483.83 299.49 C484.26 296.92 484.71 294.35 485.2 291.79 C485.69 289.23 486.21 286.67 486.77 284.12 C487.33 281.57 487.92 279.03 488.55 276.5 C489.18 273.97 489.85 271.44 490.55 268.92 C491.26 266.41 492.43 262.65 492.8 261.4 L679 261.25 L679 385.5 L478.2 385.5 Z" fill="#ff6000" stroke="none"/>
<path d="M478.7 385.4 C478.75 384.17 478.9 380.5 478.99 378.03 C479.09 375.56 479.17 373.09 479.26 370.6 C479.35 368.12 479.44 365.62 479.54 363.13 C479.64 360.63 479.74 358.12 479.86 355.62 C479.97 353.11 480.1 350.6 480.24 348.09 C480.38 345.58 480.54 343.07 480.72 340.56 C480.9 338.05 481.1 335.54 481.33 333.04 C481.56 330.54 481.81 328.03 482.1 325.54 C482.39 323.05 482.7 320.56 483.06 318.08 C483.41 315.6 483.8 313.13 484.23 310.67 C484.67 308.21 485.14 305.76 485.66 303.32 C486.18 300.89 486.74 298.46 487.36 296.06 C487.98 293.65 488.64 291.26 489.37 288.89 C490.1 286.51 490.87 284.15 491.72 281.82 C492.56 279.48 493.46 277.17 494.44 274.87 C495.41 272.58 496.44 270.31 497.55 268.06 C498.66 265.82 500.51 262.51 501.1 261.4 L679 261.25 L679 385.5 L478.7 385.5 Z" fill="#ff3500" stroke="none"/>
<path d="M479.5 385.4 C479.57 384.15 479.77 380.4 479.9 377.88 C480.02 375.35 480.14 372.8 480.26 370.23 C480.38 367.67 480.5 365.09 480.63 362.5 C480.76 359.91 480.9 357.31 481.05 354.7 C481.21 352.1 481.38 349.48 481.58 346.87 C481.78 344.27 482 341.65 482.26 339.05 C482.51 336.44 482.8 333.84 483.13 331.25 C483.46 328.66 483.82 326.07 484.23 323.51 C484.65 320.94 485.11 318.38 485.62 315.85 C486.14 313.32 486.71 310.81 487.35 308.32 C487.98 305.83 488.68 303.36 489.45 300.93 C490.22 298.5 491.05 296.09 491.97 293.72 C492.88 291.36 493.87 289.02 494.95 286.72 C496.04 284.43 497.2 282.17 498.46 279.96 C499.72 277.75 501.06 275.58 502.52 273.47 C503.97 271.35 505.52 269.28 507.18 267.27 C508.85 265.26 511.61 262.38 512.5 261.4 L679 261.25 L679 385.5 L479.5 385.5 Z" fill="#ff1500" stroke="none"/>
<path d="M480.9 385.4 C480.96 384.2 481.14 380.62 481.26 378.19 C481.38 375.76 481.5 373.29 481.64 370.81 C481.78 368.33 481.92 365.82 482.09 363.31 C482.25 360.79 482.43 358.25 482.64 355.71 C482.85 353.18 483.08 350.62 483.35 348.08 C483.62 345.53 483.92 342.98 484.26 340.44 C484.61 337.91 484.98 335.37 485.42 332.85 C485.85 330.33 486.32 327.82 486.86 325.34 C487.4 322.86 487.98 320.39 488.64 317.96 C489.29 315.53 490 313.12 490.79 310.75 C491.58 308.38 492.44 306.04 493.38 303.75 C494.31 301.46 495.32 299.21 496.43 297.01 C497.53 294.81 498.71 292.66 499.99 290.57 C501.26 288.48 502.62 286.44 504.08 284.48 C505.54 282.52 507.09 280.62 508.74 278.81 C510.39 277 512.13 275.26 513.97 273.61 C515.82 271.96 517.76 270.4 519.82 268.94 C521.87 267.48 524.02 266.1 526.28 264.85 C528.55 263.59 532.21 261.97 533.4 261.4 L679 261.25 L679 385.5 L480.9 385.5 Z" fill="#f40000" stroke="none"/>
<path d="M483.7 385.4 C483.73 384.2 483.79 380.63 483.86 378.21 C483.94 375.79 484.04 373.33 484.17 370.87 C484.3 368.4 484.45 365.91 484.65 363.42 C484.85 360.93 485.07 358.42 485.35 355.92 C485.63 353.41 485.94 350.9 486.31 348.4 C486.68 345.91 487.09 343.41 487.56 340.94 C488.03 338.47 488.56 336 489.15 333.57 C489.74 331.13 490.39 328.72 491.11 326.34 C491.83 323.96 492.62 321.61 493.49 319.31 C494.35 317.01 495.29 314.73 496.31 312.52 C497.34 310.31 498.43 308.14 499.63 306.03 C500.82 303.92 502.1 301.86 503.47 299.88 C504.85 297.9 506.32 295.97 507.88 294.12 C509.43 292.27 511.08 290.49 512.8 288.77 C514.53 287.06 516.34 285.41 518.21 283.83 C520.08 282.26 522.02 280.75 524.03 279.31 C526.03 277.88 528.1 276.51 530.21 275.22 C532.33 273.93 534.51 272.71 536.72 271.56 C538.93 270.42 541.19 269.35 543.48 268.35 C545.77 267.35 548.1 266.42 550.45 265.58 C552.8 264.73 555.18 263.95 557.57 263.26 C559.97 262.56 563.6 261.71 564.8 261.4 L679 261.25 L679 385.5 L483.7 385.5 Z" fill="#d40000" stroke="none"/>
<path d="M487.2 385.4 C487.21 384.19 487.17 380.58 487.24 378.14 C487.31 375.69 487.42 373.22 487.59 370.74 C487.77 368.26 488 365.75 488.29 363.26 C488.58 360.76 488.92 358.25 489.34 355.75 C489.75 353.25 490.22 350.76 490.77 348.28 C491.31 345.81 491.92 343.34 492.6 340.9 C493.28 338.47 494.03 336.05 494.86 333.68 C495.69 331.31 496.59 328.96 497.57 326.66 C498.55 324.37 499.61 322.11 500.75 319.91 C501.89 317.72 503.11 315.57 504.42 313.49 C505.73 311.41 507.12 309.39 508.61 307.45 C510.09 305.51 511.67 303.64 513.33 301.85 C515 300.07 516.77 298.36 518.61 296.74 C520.45 295.12 522.38 293.58 524.37 292.12 C526.36 290.65 528.44 289.27 530.55 287.96 C532.67 286.64 534.86 285.41 537.07 284.24 C539.29 283.08 541.56 281.98 543.85 280.96 C546.14 279.93 548.48 278.97 550.82 278.07 C553.16 277.18 555.52 276.35 557.9 275.57 C560.27 274.79 562.66 274.08 565.07 273.4 C567.47 272.73 569.88 272.1 572.3 271.51 C574.73 270.92 577.16 270.37 579.6 269.84 C582.04 269.31 584.48 268.82 586.93 268.34 C589.38 267.85 591.83 267.4 594.29 266.95 C596.74 266.49 599.2 266.06 601.65 265.61 C604.1 265.17 606.55 264.73 609 264.28 C611.44 263.83 613.89 263.37 616.32 262.89 C618.75 262.41 622.39 261.65 623.6 261.4 L679 261.25 L679 385.5 L487.2 385.5 Z" fill="#b50000" stroke="none"/>
<path d="M492.4 385.4 C492.35 384.16 492.07 380.42 492.07 377.94 C492.07 375.47 492.18 373 492.4 370.55 C492.61 368.11 492.94 365.67 493.36 363.27 C493.78 360.86 494.3 358.48 494.92 356.12 C495.53 353.77 496.25 351.43 497.05 349.14 C497.85 346.85 498.75 344.58 499.72 342.36 C500.7 340.14 501.77 337.95 502.91 335.81 C504.06 333.68 505.28 331.58 506.58 329.53 C507.89 327.49 509.27 325.48 510.71 323.54 C512.16 321.6 513.68 319.71 515.27 317.89 C516.85 316.06 518.51 314.29 520.22 312.59 C521.93 310.89 523.71 309.25 525.54 307.68 C527.37 306.12 529.26 304.62 531.2 303.2 C533.14 301.79 535.13 300.44 537.17 299.18 C539.2 297.92 541.29 296.74 543.41 295.62 C545.54 294.5 547.71 293.47 549.91 292.49 C552.11 291.51 554.35 290.6 556.62 289.74 C558.88 288.88 561.18 288.08 563.5 287.33 C565.82 286.58 568.17 285.88 570.54 285.22 C572.9 284.56 575.29 283.95 577.69 283.36 C580.08 282.78 582.5 282.24 584.92 281.72 C587.33 281.2 589.77 280.72 592.19 280.25 C594.62 279.78 597.06 279.33 599.48 278.9 C601.91 278.46 604.34 278.05 606.76 277.64 C609.17 277.23 611.58 276.82 613.99 276.43 C616.4 276.03 618.79 275.65 621.19 275.27 C623.59 274.89 625.98 274.52 628.37 274.15 C630.76 273.79 633.15 273.43 635.53 273.08 C637.92 272.73 640.31 272.39 642.7 272.05 C645.09 271.71 647.47 271.38 649.87 271.06 C652.26 270.73 654.65 270.41 657.05 270.1 C659.45 269.78 661.85 269.47 664.26 269.17 C666.67 268.87 669.09 268.57 671.51 268.27 C673.93 267.98 677.58 267.54 678.8 267.4 L679 385.5 L492.4 385.5 Z" fill="#8a0000" stroke="none"/>
<path d="M503.5 385.4 C503.59 384.21 503.79 380.67 504.04 378.27 C504.29 375.87 504.6 373.43 504.99 371 C505.39 368.57 505.85 366.11 506.41 363.7 C506.98 361.29 507.61 358.88 508.36 356.53 C509.1 354.18 509.94 351.85 510.88 349.61 C511.83 347.37 512.87 345.18 514.04 343.09 C515.21 341 516.49 338.99 517.89 337.09 C519.29 335.19 520.81 333.39 522.42 331.67 C524.02 329.95 525.74 328.33 527.53 326.78 C529.31 325.23 531.2 323.76 533.13 322.36 C535.06 320.96 537.08 319.64 539.13 318.38 C541.17 317.11 543.29 315.92 545.42 314.77 C547.55 313.62 549.73 312.53 551.92 311.49 C554.11 310.44 556.32 309.44 558.54 308.48 C560.76 307.52 563 306.61 565.26 305.73 C567.51 304.85 569.78 304.02 572.07 303.22 C574.35 302.42 576.64 301.66 578.95 300.93 C581.26 300.2 583.58 299.51 585.91 298.84 C588.24 298.18 590.58 297.55 592.93 296.94 C595.28 296.34 597.64 295.77 600 295.21 C602.37 294.66 604.74 294.14 607.12 293.64 C609.5 293.13 611.88 292.66 614.27 292.2 C616.66 291.74 619.06 291.3 621.45 290.87 C623.85 290.45 626.25 290.05 628.65 289.65 C631.05 289.26 633.45 288.88 635.86 288.51 C638.26 288.15 640.66 287.79 643.06 287.44 C645.47 287.1 647.87 286.76 650.26 286.42 C652.66 286.09 655.06 285.76 657.45 285.44 C659.83 285.11 662.22 284.79 664.6 284.46 C666.98 284.14 669.36 283.82 671.72 283.49 C674.09 283.16 677.62 282.66 678.8 282.5 L679 385.5 L503.5 385.5 Z" fill="#6a0000" stroke="none"/>
<path d="M534.4 385.4 C534.45 384.13 534.43 380.32 534.68 377.78 C534.93 375.24 535.3 372.62 535.91 370.15 C536.51 367.69 537.28 365.23 538.3 362.98 C539.32 360.73 540.6 358.62 542.03 356.65 C543.45 354.68 545.13 352.88 546.87 351.14 C548.62 349.41 550.54 347.82 552.48 346.26 C554.41 344.71 556.45 343.24 558.49 341.81 C560.52 340.37 562.6 338.99 564.7 337.66 C566.81 336.33 568.95 335.06 571.11 333.82 C573.28 332.59 575.47 331.41 577.69 330.27 C579.91 329.13 582.16 328.04 584.43 326.99 C586.7 325.93 589 324.93 591.31 323.96 C593.62 322.99 595.96 322.07 598.31 321.18 C600.66 320.29 603.03 319.44 605.42 318.63 C607.8 317.82 610.21 317.04 612.62 316.3 C615.03 315.55 617.46 314.85 619.89 314.17 C622.33 313.49 624.77 312.85 627.22 312.23 C629.68 311.61 632.14 311.03 634.6 310.47 C637.06 309.9 639.53 309.37 642 308.86 C644.47 308.35 646.94 307.87 649.41 307.41 C651.87 306.95 654.34 306.51 656.81 306.09 C659.27 305.67 661.73 305.27 664.18 304.89 C666.64 304.51 669.08 304.15 671.52 303.8 C673.96 303.45 677.59 302.97 678.8 302.8 L679 385.5 L534.4 385.5 Z" fill="#4a0000" stroke="none"/>
<defs><linearGradient id="dbandv" x1="0" y1="0" x2="0" y2="1"><stop offset="0" stop-color="#5a2000" stop-opacity="0"/><stop offset="0.3" stop-color="#5a2000" stop-opacity="0.1"/><stop offset="1" stop-color="#5a2000" stop-opacity="0.7"/></linearGradient></defs>
<rect x="476" y="261.75" width="4.6" height="123.25" fill="url(#dbandv)"/>
<clipPath id="dbandz1"><rect x="470" y="260.75" width="11" height="125.25"/></clipPath>
<clipPath id="dbandz2"><rect x="481" y="260.75" width="2" height="125.25"/></clipPath>
<clipPath id="dbandz3"><rect x="483" y="260.75" width="220" height="125.25"/></clipPath>
<defs><path id="dbandL" d="M534.4 385.4 C534.45 384.13 534.43 380.32 534.68 377.78 C534.93 375.24 535.3 372.62 535.91 370.15 C536.51 367.69 537.28 365.23 538.3 362.98 C539.32 360.73 540.6 358.62 542.03 356.65 C543.45 354.68 545.13 352.88 546.87 351.14 C548.62 349.41 550.54 347.82 552.48 346.26 C554.41 344.71 556.45 343.24 558.49 341.81 C560.52 340.37 562.6 338.99 564.7 337.66 C566.81 336.33 568.95 335.06 571.11 333.82 C573.28 332.59 575.47 331.41 577.69 330.27 C579.91 329.13 582.16 328.04 584.43 326.99 C586.7 325.93 589 324.93 591.31 323.96 C593.62 322.99 595.96 322.07 598.31 321.18 C600.66 320.29 603.03 319.44 605.42 318.63 C607.8 317.82 610.21 317.04 612.62 316.3 C615.03 315.55 617.46 314.85 619.89 314.17 C622.33 313.49 624.77 312.85 627.22 312.23 C629.68 311.61 632.14 311.03 634.6 310.47 C637.06 309.9 639.53 309.37 642 308.86 C644.47 308.35 646.94 307.87 649.41 307.41 C651.87 306.95 654.34 306.51 656.81 306.09 C659.27 305.67 661.73 305.27 664.18 304.89 C666.64 304.51 669.08 304.15 671.52 303.8 C673.96 303.45 677.59 302.97 678.8 302.8 M503.5 385.4 C503.59 384.21 503.79 380.67 504.04 378.27 C504.29 375.87 504.6 373.43 504.99 371 C505.39 368.57 505.85 366.11 506.41 363.7 C506.98 361.29 507.61 358.88 508.36 356.53 C509.1 354.18 509.94 351.85 510.88 349.61 C511.83 347.37 512.87 345.18 514.04 343.09 C515.21 341 516.49 338.99 517.89 337.09 C519.29 335.19 520.81 333.39 522.42 331.67 C524.02 329.95 525.74 328.33 527.53 326.78 C529.31 325.23 531.2 323.76 533.13 322.36 C535.06 320.96 537.08 319.64 539.13 318.38 C541.17 317.11 543.29 315.92 545.42 314.77 C547.55 313.62 549.73 312.53 551.92 311.49 C554.11 310.44 556.32 309.44 558.54 308.48 C560.76 307.52 563 306.61 565.26 305.73 C567.51 304.85 569.78 304.02 572.07 303.22 C574.35 302.42 576.64 301.66 578.95 300.93 C581.26 300.2 583.58 299.51 585.91 298.84 C588.24 298.18 590.58 297.55 592.93 296.94 C595.28 296.34 597.64 295.77 600 295.21 C602.37 294.66 604.74 294.14 607.12 293.64 C609.5 293.13 611.88 292.66 614.27 292.2 C616.66 291.74 619.06 291.3 621.45 290.87 C623.85 290.45 626.25 290.05 628.65 289.65 C631.05 289.26 633.45 288.88 635.86 288.51 C638.26 288.15 640.66 287.79 643.06 287.44 C645.47 287.1 647.87 286.76 650.26 286.42 C652.66 286.09 655.06 285.76 657.45 285.44 C659.83 285.11 662.22 284.79 664.6 284.46 C666.98 284.14 669.36 283.82 671.72 283.49 C674.09 283.16 677.62 282.66 678.8 282.5 M492.4 385.4 C492.35 384.16 492.07 380.42 492.07 377.94 C492.07 375.47 492.18 373 492.4 370.55 C492.61 368.11 492.94 365.67 493.36 363.27 C493.78 360.86 494.3 358.48 494.92 356.12 C495.53 353.77 496.25 351.43 497.05 349.14 C497.85 346.85 498.75 344.58 499.72 342.36 C500.7 340.14 501.77 337.95 502.91 335.81 C504.06 333.68 505.28 331.58 506.58 329.53 C507.89 327.49 509.27 325.48 510.71 323.54 C512.16 321.6 513.68 319.71 515.27 317.89 C516.85 316.06 518.51 314.29 520.22 312.59 C521.93 310.89 523.71 309.25 525.54 307.68 C527.37 306.12 529.26 304.62 531.2 303.2 C533.14 301.79 535.13 300.44 537.17 299.18 C539.2 297.92 541.29 296.74 543.41 295.62 C545.54 294.5 547.71 293.47 549.91 292.49 C552.11 291.51 554.35 290.6 556.62 289.74 C558.88 288.88 561.18 288.08 563.5 287.33 C565.82 286.58 568.17 285.88 570.54 285.22 C572.9 284.56 575.29 283.95 577.69 283.36 C580.08 282.78 582.5 282.24 584.92 281.72 C587.33 281.2 589.77 280.72 592.19 280.25 C594.62 279.78 597.06 279.33 599.48 278.9 C601.91 278.46 604.34 278.05 606.76 277.64 C609.17 277.23 611.58 276.82 613.99 276.43 C616.4 276.03 618.79 275.65 621.19 275.27 C623.59 274.89 625.98 274.52 628.37 274.15 C630.76 273.79 633.15 273.43 635.53 273.08 C637.92 272.73 640.31 272.39 642.7 272.05 C645.09 271.71 647.47 271.38 649.87 271.06 C652.26 270.73 654.65 270.41 657.05 270.1 C659.45 269.78 661.85 269.47 664.26 269.17 C666.67 268.87 669.09 268.57 671.51 268.27 C673.93 267.98 677.58 267.54 678.8 267.4 M487.2 385.4 C487.21 384.19 487.17 380.58 487.24 378.14 C487.31 375.69 487.42 373.22 487.59 370.74 C487.77 368.26 488 365.75 488.29 363.26 C488.58 360.76 488.92 358.25 489.34 355.75 C489.75 353.25 490.22 350.76 490.77 348.28 C491.31 345.81 491.92 343.34 492.6 340.9 C493.28 338.47 494.03 336.05 494.86 333.68 C495.69 331.31 496.59 328.96 497.57 326.66 C498.55 324.37 499.61 322.11 500.75 319.91 C501.89 317.72 503.11 315.57 504.42 313.49 C505.73 311.41 507.12 309.39 508.61 307.45 C510.09 305.51 511.67 303.64 513.33 301.85 C515 300.07 516.77 298.36 518.61 296.74 C520.45 295.12 522.38 293.58 524.37 292.12 C526.36 290.65 528.44 289.27 530.55 287.96 C532.67 286.64 534.86 285.41 537.07 284.24 C539.29 283.08 541.56 281.98 543.85 280.96 C546.14 279.93 548.48 278.97 550.82 278.07 C553.16 277.18 555.52 276.35 557.9 275.57 C560.27 274.79 562.66 274.08 565.07 273.4 C567.47 272.73 569.88 272.1 572.3 271.51 C574.73 270.92 577.16 270.37 579.6 269.84 C582.04 269.31 584.48 268.82 586.93 268.34 C589.38 267.85 591.83 267.4 594.29 266.95 C596.74 266.49 599.2 266.06 601.65 265.61 C604.1 265.17 606.55 264.73 609 264.28 C611.44 263.83 613.89 263.37 616.32 262.89 C618.75 262.41 622.39 261.65 623.6 261.4 M483.7 385.4 C483.73 384.2 483.79 380.63 483.86 378.21 C483.94 375.79 484.04 373.33 484.17 370.87 C484.3 368.4 484.45 365.91 484.65 363.42 C484.85 360.93 485.07 358.42 485.35 355.92 C485.63 353.41 485.94 350.9 486.31 348.4 C486.68 345.91 487.09 343.41 487.56 340.94 C488.03 338.47 488.56 336 489.15 333.57 C489.74 331.13 490.39 328.72 491.11 326.34 C491.83 323.96 492.62 321.61 493.49 319.31 C494.35 317.01 495.29 314.73 496.31 312.52 C497.34 310.31 498.43 308.14 499.63 306.03 C500.82 303.92 502.1 301.86 503.47 299.88 C504.85 297.9 506.32 295.97 507.88 294.12 C509.43 292.27 511.08 290.49 512.8 288.77 C514.53 287.06 516.34 285.41 518.21 283.83 C520.08 282.26 522.02 280.75 524.03 279.31 C526.03 277.88 528.1 276.51 530.21 275.22 C532.33 273.93 534.51 272.71 536.72 271.56 C538.93 270.42 541.19 269.35 543.48 268.35 C545.77 267.35 548.1 266.42 550.45 265.58 C552.8 264.73 555.18 263.95 557.57 263.26 C559.97 262.56 563.6 261.71 564.8 261.4 M480.9 385.4 C480.96 384.2 481.14 380.62 481.26 378.19 C481.38 375.76 481.5 373.29 481.64 370.81 C481.78 368.33 481.92 365.82 482.09 363.31 C482.25 360.79 482.43 358.25 482.64 355.71 C482.85 353.18 483.08 350.62 483.35 348.08 C483.62 345.53 483.92 342.98 484.26 340.44 C484.61 337.91 484.98 335.37 485.42 332.85 C485.85 330.33 486.32 327.82 486.86 325.34 C487.4 322.86 487.98 320.39 488.64 317.96 C489.29 315.53 490 313.12 490.79 310.75 C491.58 308.38 492.44 306.04 493.38 303.75 C494.31 301.46 495.32 299.21 496.43 297.01 C497.53 294.81 498.71 292.66 499.99 290.57 C501.26 288.48 502.62 286.44 504.08 284.48 C505.54 282.52 507.09 280.62 508.74 278.81 C510.39 277 512.13 275.26 513.97 273.61 C515.82 271.96 517.76 270.4 519.82 268.94 C521.87 267.48 524.02 266.1 526.28 264.85 C528.55 263.59 532.21 261.97 533.4 261.4 M479.5 385.4 C479.57 384.15 479.77 380.4 479.9 377.88 C480.02 375.35 480.14 372.8 480.26 370.23 C480.38 367.67 480.5 365.09 480.63 362.5 C480.76 359.91 480.9 357.31 481.05 354.7 C481.21 352.1 481.38 349.48 481.58 346.87 C481.78 344.27 482 341.65 482.26 339.05 C482.51 336.44 482.8 333.84 483.13 331.25 C483.46 328.66 483.82 326.07 484.23 323.51 C484.65 320.94 485.11 318.38 485.62 315.85 C486.14 313.32 486.71 310.81 487.35 308.32 C487.98 305.83 488.68 303.36 489.45 300.93 C490.22 298.5 491.05 296.09 491.97 293.72 C492.88 291.36 493.87 289.02 494.95 286.72 C496.04 284.43 497.2 282.17 498.46 279.96 C499.72 277.75 501.06 275.58 502.52 273.47 C503.97 271.35 505.52 269.28 507.18 267.27 C508.85 265.26 511.61 262.38 512.5 261.4 M478.7 385.4 C478.75 384.17 478.9 380.5 478.99 378.03 C479.09 375.56 479.17 373.09 479.26 370.6 C479.35 368.12 479.44 365.62 479.54 363.13 C479.64 360.63 479.74 358.12 479.86 355.62 C479.97 353.11 480.1 350.6 480.24 348.09 C480.38 345.58 480.54 343.07 480.72 340.56 C480.9 338.05 481.1 335.54 481.33 333.04 C481.56 330.54 481.81 328.03 482.1 325.54 C482.39 323.05 482.7 320.56 483.06 318.08 C483.41 315.6 483.8 313.13 484.23 310.67 C484.67 308.21 485.14 305.76 485.66 303.32 C486.18 300.89 486.74 298.46 487.36 296.06 C487.98 293.65 488.64 291.26 489.37 288.89 C490.1 286.51 490.87 284.15 491.72 281.82 C492.56 279.48 493.46 277.17 494.44 274.87 C495.41 272.58 496.44 270.31 497.55 268.06 C498.66 265.82 500.51 262.51 501.1 261.4 M478.2 385.4 C478.21 384.1 478.22 380.19 478.24 377.59 C478.27 374.98 478.3 372.37 478.34 369.76 C478.38 367.15 478.43 364.54 478.5 361.93 C478.57 359.32 478.65 356.7 478.75 354.09 C478.85 351.48 478.96 348.86 479.09 346.25 C479.22 343.64 479.36 341.03 479.53 338.42 C479.7 335.81 479.89 333.2 480.1 330.59 C480.31 327.99 480.54 325.38 480.8 322.79 C481.06 320.19 481.34 317.59 481.65 315 C481.96 312.4 482.29 309.81 482.65 307.23 C483.02 304.65 483.41 302.07 483.83 299.49 C484.26 296.92 484.71 294.35 485.2 291.79 C485.69 289.23 486.21 286.67 486.77 284.12 C487.33 281.57 487.92 279.03 488.55 276.5 C489.18 273.97 489.85 271.44 490.55 268.92 C491.26 266.41 492.43 262.65 492.8 261.4 M477.8 385.4 C477.8 384.1 477.8 380.21 477.81 377.62 C477.82 375.02 477.84 372.43 477.87 369.83 C477.9 367.24 477.94 364.64 477.99 362.05 C478.04 359.46 478.1 356.86 478.17 354.27 C478.24 351.68 478.32 349.08 478.41 346.49 C478.5 343.9 478.61 341.31 478.72 338.72 C478.84 336.12 478.97 333.53 479.12 330.94 C479.26 328.36 479.42 325.77 479.59 323.18 C479.76 320.59 479.95 318.01 480.15 315.42 C480.35 312.84 480.56 310.25 480.8 307.67 C481.03 305.09 481.28 302.51 481.54 299.93 C481.81 297.35 482.09 294.78 482.39 292.2 C482.69 289.63 483.01 287.05 483.35 284.48 C483.68 281.91 484.04 279.34 484.41 276.77 C484.79 274.21 485.18 271.64 485.6 269.08 C486.01 266.52 486.68 262.68 486.9 261.4 M477.5 385.4 C477.5 384.11 477.48 380.23 477.48 377.64 C477.48 375.05 477.49 372.46 477.51 369.88 C477.53 367.29 477.56 364.7 477.59 362.12 C477.63 359.53 477.67 356.94 477.72 354.36 C477.78 351.77 477.84 349.18 477.9 346.6 C477.97 344.01 478.05 341.43 478.13 338.84 C478.22 336.26 478.31 333.67 478.41 331.09 C478.51 328.5 478.62 325.92 478.73 323.33 C478.85 320.75 478.97 318.16 479.1 315.58 C479.24 313 479.37 310.41 479.52 307.83 C479.67 305.25 479.82 302.67 479.99 300.08 C480.15 297.5 480.32 294.92 480.5 292.34 C480.68 289.76 480.86 287.18 481.06 284.6 C481.25 282.02 481.45 279.44 481.66 276.86 C481.87 274.28 482.08 271.71 482.31 269.13 C482.53 266.55 482.88 262.69 483 261.4 M477.2 385.4 C477.21 384.11 477.23 380.23 477.24 377.65 C477.25 375.06 477.27 372.48 477.29 369.89 C477.3 367.31 477.32 364.72 477.34 362.13 C477.36 359.55 477.39 356.96 477.41 354.38 C477.44 351.79 477.47 349.21 477.51 346.62 C477.54 344.03 477.58 341.45 477.63 338.86 C477.67 336.28 477.72 333.69 477.78 331.11 C477.83 328.52 477.89 325.94 477.96 323.35 C478.03 320.77 478.11 318.18 478.19 315.6 C478.28 313.01 478.37 310.43 478.47 307.85 C478.57 305.26 478.68 302.68 478.8 300.1 C478.91 297.51 479.04 294.93 479.18 292.35 C479.32 289.77 479.47 287.19 479.63 284.61 C479.79 282.03 479.96 279.45 480.14 276.87 C480.33 274.29 480.52 271.71 480.73 269.13 C480.94 266.55 481.29 262.69 481.4 261.4 M477 385.4 C477 384.11 477 380.23 477.01 377.65 C477.01 375.06 477.01 372.48 477.02 369.9 C477.02 367.31 477.03 364.73 477.04 362.14 C477.05 359.56 477.06 356.97 477.08 354.39 C477.09 351.8 477.11 349.22 477.13 346.63 C477.15 344.05 477.18 341.47 477.21 338.88 C477.24 336.3 477.27 333.71 477.31 331.13 C477.34 328.54 477.39 325.96 477.43 323.37 C477.48 320.79 477.54 318.21 477.59 315.62 C477.65 313.04 477.72 310.45 477.79 307.87 C477.86 305.29 477.94 302.7 478.02 300.12 C478.11 297.54 478.2 294.96 478.3 292.37 C478.4 289.79 478.51 287.21 478.62 284.63 C478.74 282.04 478.86 279.46 478.99 276.88 C479.13 274.3 479.27 271.72 479.42 269.14 C479.57 266.56 479.82 262.69 479.9 261.4"/></defs>
<g clip-path="url(#dbandz1)"><use href="#dbandL" fill="none" stroke="#000" stroke-linejoin="round" stroke-width="0.75"/></g>
<g clip-path="url(#dbandz2)"><use href="#dbandL" fill="none" stroke="#000" stroke-linejoin="round" stroke-width="0.8"/></g>
<g clip-path="url(#dbandz3)"><use href="#dbandL" fill="none" stroke="#000" stroke-linejoin="round" stroke-width="1.05"/></g>
<path d="M473 261.25 L475.8 261.25 L477.1 385.5 L473 385.5 Z" fill="#000"/>
</g>
<rect x="473.6" y="261.75" width="204.85" height="123.25" fill="none" stroke="#000" stroke-width="1.1" stroke-linejoin="round"/>
<path d="M473.6 261.75 V385 H678.45" fill="none" stroke="#000" stroke-width="1.1" stroke-linejoin="round" stroke-opacity="0.8"/>
<path d="M524.1 385 v-2.4 M524.1 261.75 v2.4" stroke="#000" stroke-width="1.1" fill="none"/>
<path d="M575.5 385 v-2.4 M575.5 261.75 v2.4" stroke="#000" stroke-width="1.1" fill="none"/>
<path d="M626.9 385 v-2.4 M626.9 261.75 v2.4" stroke="#000" stroke-width="1.1" fill="none"/>
<path d="M473.6 303.5 h2.4 M678.45 303.5 h-2.4" stroke="#000" stroke-width="1.1" fill="none"/>
<path d="M473.6 345.25 h2.4 M678.45 345.25 h-2.4" stroke="#000" stroke-width="1.1" fill="none"/>
<text transform="translate(469.1 267.45) scale(0.94 1)" font-size="17.4" text-anchor="end">1.5</text>
<text transform="translate(469.1 309.2) scale(0.94 1)" font-size="17.4" text-anchor="end">1</text>
<text transform="translate(469.1 350.95) scale(0.94 1)" font-size="17.4" text-anchor="end">0.5</text>
<text transform="translate(524.1 404.8) scale(0.94 1)" font-size="17.4" text-anchor="middle">500</text>
<text transform="translate(575.5 404.8) scale(0.94 1)" font-size="17.4" text-anchor="middle">1000</text>
<text transform="translate(626.9 404.8) scale(0.94 1)" font-size="17.4" text-anchor="middle">1500</text>
<text transform="translate(678.3 404.8) scale(0.94 1)" font-size="17.4" text-anchor="middle">2000</text>
<text x="576.2" y="430.3" font-size="24.6" text-anchor="middle">Mean</text>
<text x="433.6" y="324.57" font-size="24.6" text-anchor="middle" transform="rotate(-90 433.6 324.57)">CV</text>
<text x="416.3" y="261.4" font-size="22" text-anchor="start">D</text>
<rect x="702.9" y="262.25" width="32.7" height="123.75" fill="url(#hot)"/>
<rect x="702.9" y="262.25" width="32.7" height="123.75" fill="none" stroke="#000" stroke-width="1.1" stroke-linejoin="round"/>
<path d="M702.9 266.2 h1.8 M735.6 266.2 h-1.8" stroke="#000" stroke-width="1" fill="none"/>
<text transform="translate(740.2 272.6) scale(0.94 1)" font-size="17.4" text-anchor="start">6</text>
<path d="M702.9 305.9 h1.8 M735.6 305.9 h-1.8" stroke="#000" stroke-width="1" fill="none"/>
<text transform="translate(740.2 312.3) scale(0.94 1)" font-size="17.4" text-anchor="start">4</text>
<path d="M702.9 345.3 h1.8 M735.6 345.3 h-1.8" stroke="#000" stroke-width="1" fill="none"/>
<text transform="translate(740.2 351.7) scale(0.94 1)" font-size="17.4" text-anchor="start">2</text>
<clipPath id="clipF"><rect x="473.6" y="473.75" width="204.85" height="123.55"/></clipPath>
<g clip-path="url(#clipF)">
<rect x="473.6" y="473.75" width="204.85" height="123.55" fill="#0b0000"/>
<defs><linearGradient id="fband" x1="0" y1="0" x2="1" y2="0"><stop offset="0" stop-color="#000"/><stop offset="0.4" stop-color="#000"/><stop offset="0.6" stop-color="#3a3600"/><stop offset="1" stop-color="#ffff40"/></linearGradient></defs>
<rect x="473.5" y="473.25" width="7" height="124.55" fill="url(#fband)"/>
<path d="M477.3 597.6 C477.32 596.3 477.36 592.42 477.4 589.83 C477.43 587.24 477.47 584.65 477.51 582.06 C477.55 579.47 477.59 576.88 477.64 574.29 C477.68 571.7 477.73 569.11 477.77 566.52 C477.82 563.93 477.87 561.34 477.93 558.75 C477.98 556.16 478.03 553.57 478.09 550.98 C478.15 548.39 478.21 545.8 478.27 543.21 C478.33 540.62 478.4 538.03 478.47 535.44 C478.53 532.85 478.6 530.26 478.68 527.67 C478.75 525.08 478.83 522.49 478.9 519.9 C478.98 517.31 479.06 514.72 479.14 512.13 C479.23 509.54 479.31 506.95 479.4 504.36 C479.49 501.78 479.58 499.19 479.68 496.6 C479.77 494.01 479.87 491.42 479.97 488.83 C480.07 486.24 480.17 483.65 480.27 481.07 C480.38 478.48 480.55 474.59 480.6 473.3 L679 473.25 L679 597.8 L477.3 597.8 Z" fill="#ffff10" stroke="none"/>
<path d="M477.7 597.6 C477.71 596.3 477.72 592.42 477.74 589.82 C477.76 587.23 477.79 584.64 477.82 582.05 C477.86 579.46 477.9 576.86 477.95 574.27 C478 571.68 478.06 569.09 478.13 566.5 C478.19 563.91 478.26 561.32 478.34 558.73 C478.41 556.13 478.5 553.54 478.59 550.95 C478.67 548.36 478.77 545.77 478.87 543.18 C478.97 540.59 479.08 538 479.19 535.41 C479.3 532.82 479.41 530.23 479.53 527.65 C479.65 525.06 479.78 522.47 479.91 519.88 C480.03 517.29 480.17 514.7 480.31 512.11 C480.44 509.52 480.58 506.93 480.73 504.35 C480.87 501.76 481.02 499.17 481.17 496.58 C481.32 494 481.48 491.41 481.63 488.82 C481.79 486.23 481.95 483.65 482.11 481.06 C482.27 478.47 482.52 474.59 482.6 473.3 L679 473.25 L679 597.8 L477.7 597.8 Z" fill="#ffdf00" stroke="none"/>
<path d="M478.1 597.6 C478.1 596.3 478.08 592.41 478.09 589.81 C478.09 587.22 478.12 584.62 478.16 582.03 C478.2 579.44 478.25 576.84 478.31 574.25 C478.37 571.66 478.45 569.06 478.54 566.47 C478.63 563.88 478.72 561.29 478.83 558.7 C478.94 556.11 479.06 553.52 479.19 550.93 C479.32 548.34 479.45 545.75 479.6 543.16 C479.74 540.57 479.89 537.98 480.05 535.39 C480.21 532.8 480.38 530.21 480.55 527.62 C480.72 525.03 480.9 522.45 481.08 519.86 C481.26 517.27 481.45 514.68 481.64 512.1 C481.83 509.51 482.02 506.92 482.22 504.33 C482.41 501.75 482.61 499.16 482.81 496.57 C483.01 493.99 483.21 491.4 483.41 488.82 C483.61 486.23 483.81 483.64 484.01 481.06 C484.21 478.47 484.5 474.59 484.6 473.3 L679 473.25 L679 597.8 L478.1 597.8 Z" fill="#ffbf00" stroke="none"/>
<path d="M478.6 597.6 C478.58 596.3 478.51 592.39 478.5 589.79 C478.48 587.19 478.5 584.59 478.53 581.99 C478.56 579.39 478.62 576.79 478.69 574.2 C478.76 571.6 478.86 569 478.97 566.41 C479.08 563.81 479.21 561.22 479.36 558.63 C479.5 556.03 479.66 553.44 479.84 550.85 C480.01 548.26 480.21 545.67 480.41 543.08 C480.61 540.49 480.83 537.9 481.05 535.31 C481.28 532.72 481.52 530.13 481.76 527.55 C482.01 524.96 482.27 522.37 482.53 519.79 C482.79 517.2 483.06 514.62 483.34 512.03 C483.62 509.45 483.9 506.86 484.19 504.28 C484.47 501.7 484.76 499.12 485.05 496.53 C485.35 493.95 485.64 491.37 485.94 488.79 C486.23 486.2 486.53 483.62 486.82 481.04 C487.12 478.46 487.55 474.59 487.7 473.3 L679 473.25 L679 597.8 L478.6 597.8 Z" fill="#ff9f00" stroke="none"/>
<path d="M479.2 597.6 C479.16 596.29 479.02 592.36 478.98 589.74 C478.95 587.13 478.94 584.52 478.97 581.9 C478.99 579.29 479.05 576.68 479.14 574.08 C479.23 571.47 479.34 568.87 479.48 566.26 C479.62 563.66 479.79 561.06 479.98 558.46 C480.18 555.86 480.39 553.27 480.63 550.67 C480.87 548.08 481.13 545.49 481.41 542.89 C481.69 540.3 481.99 537.71 482.31 535.13 C482.63 532.54 482.96 529.95 483.31 527.37 C483.66 524.79 484.03 522.2 484.4 519.62 C484.78 517.04 485.17 514.46 485.57 511.88 C485.97 509.3 486.39 506.73 486.81 504.15 C487.22 501.58 487.65 499 488.09 496.43 C488.52 493.86 488.96 491.28 489.41 488.71 C489.85 486.14 490.3 483.57 490.75 481 C491.2 478.43 491.87 474.58 492.1 473.3 L679 473.25 L679 597.8 L479.2 597.8 Z" fill="#ff8000" stroke="none"/>
<path d="M480 597.6 C479.99 596.36 479.92 592.66 479.92 590.18 C479.93 587.71 479.95 585.24 480.01 582.77 C480.06 580.3 480.14 577.82 480.24 575.35 C480.35 572.88 480.48 570.41 480.63 567.94 C480.79 565.48 480.97 563.01 481.17 560.54 C481.37 558.08 481.6 555.61 481.86 553.15 C482.11 550.69 482.38 548.23 482.68 545.77 C482.98 543.31 483.31 540.86 483.65 538.41 C484 535.96 484.37 533.51 484.76 531.06 C485.16 528.62 485.57 526.18 486.01 523.74 C486.44 521.3 486.9 518.87 487.39 516.44 C487.87 514.01 488.37 511.59 488.89 509.17 C489.42 506.75 489.96 504.33 490.53 501.93 C491.1 499.52 491.68 497.11 492.29 494.71 C492.9 492.32 493.53 489.92 494.18 487.54 C494.82 485.15 495.49 482.77 496.18 480.4 C496.87 478.03 497.95 474.48 498.3 473.3 L679 473.25 L679 597.8 L480 597.8 Z" fill="#ff6000" stroke="none"/>
<path d="M481 597.6 C481.04 596.36 481.13 592.64 481.21 590.15 C481.3 587.65 481.39 585.15 481.5 582.64 C481.61 580.14 481.73 577.62 481.88 575.11 C482.02 572.59 482.18 570.07 482.36 567.55 C482.55 565.02 482.75 562.5 482.98 559.98 C483.21 557.45 483.46 554.93 483.74 552.41 C484.03 549.89 484.33 547.38 484.67 544.87 C485.02 542.36 485.39 539.85 485.79 537.35 C486.2 534.85 486.64 532.36 487.12 529.88 C487.59 527.4 488.11 524.92 488.66 522.47 C489.22 520.01 489.81 517.56 490.45 515.12 C491.1 512.69 491.78 510.27 492.51 507.86 C493.24 505.46 494.02 503.07 494.85 500.7 C495.68 498.33 496.55 495.98 497.48 493.65 C498.42 491.32 499.4 489.01 500.44 486.73 C501.49 484.44 502.58 482.18 503.74 479.94 C504.9 477.7 506.79 474.41 507.4 473.3 L679 473.25 L679 597.8 L481 597.8 Z" fill="#ff3500" stroke="none"/>
<path d="M482.5 597.6 C482.61 596.42 482.95 592.92 483.16 590.54 C483.37 588.16 483.57 585.74 483.77 583.31 C483.97 580.88 484.16 578.43 484.36 575.96 C484.56 573.49 484.76 571.01 484.98 568.52 C485.2 566.02 485.42 563.52 485.67 561.01 C485.92 558.5 486.18 555.99 486.48 553.48 C486.77 550.97 487.08 548.45 487.44 545.95 C487.79 543.45 488.17 540.95 488.59 538.46 C489.02 535.98 489.47 533.5 489.99 531.05 C490.5 528.6 491.05 526.16 491.66 523.74 C492.27 521.33 492.93 518.94 493.66 516.58 C494.39 514.22 495.17 511.88 496.02 509.58 C496.88 507.29 497.79 505.02 498.79 502.8 C499.79 500.58 500.86 498.39 502.02 496.26 C503.18 494.12 504.41 492.03 505.75 490 C507.08 487.97 508.5 485.98 510.02 484.06 C511.55 482.14 513.16 480.28 514.89 478.48 C516.62 476.69 519.48 474.16 520.4 473.3 L679 473.25 L679 597.8 L482.5 597.8 Z" fill="#ff1500" stroke="none"/>
<path d="M484.6 597.6 C484.61 596.32 484.58 592.45 484.66 589.9 C484.74 587.36 484.9 584.83 485.09 582.31 C485.29 579.79 485.55 577.29 485.85 574.8 C486.15 572.3 486.5 569.81 486.87 567.33 C487.25 564.84 487.67 562.36 488.11 559.87 C488.55 557.39 489.03 554.9 489.52 552.41 C490 549.91 490.51 547.41 491.03 544.9 C491.56 542.4 492.1 539.88 492.69 537.38 C493.28 534.89 493.9 532.38 494.58 529.92 C495.27 527.45 495.99 524.99 496.8 522.58 C497.62 520.17 498.48 517.78 499.46 515.45 C500.43 513.11 501.48 510.82 502.63 508.59 C503.79 506.36 505.04 504.17 506.39 502.07 C507.74 499.97 509.19 497.93 510.75 495.98 C512.3 494.03 513.95 492.15 515.7 490.37 C517.45 488.6 519.32 486.91 521.27 485.33 C523.22 483.74 525.28 482.26 527.39 480.86 C529.5 479.45 531.7 478.14 533.92 476.88 C536.14 475.62 539.57 473.9 540.7 473.3 L679 473.25 L679 597.8 L484.6 597.8 Z" fill="#f40000" stroke="none"/>
<path d="M487.7 597.6 C487.72 596.35 487.71 592.6 487.81 590.13 C487.9 587.65 488.05 585.19 488.25 582.74 C488.46 580.29 488.72 577.85 489.02 575.42 C489.32 572.99 489.68 570.57 490.08 568.15 C490.48 565.73 490.93 563.32 491.41 560.91 C491.9 558.5 492.43 556.09 492.99 553.68 C493.56 551.27 494.15 548.86 494.8 546.45 C495.44 544.04 496.12 541.62 496.85 539.24 C497.59 536.85 498.37 534.46 499.22 532.12 C500.07 529.78 500.97 527.46 501.96 525.19 C502.95 522.92 503.99 520.68 505.15 518.52 C506.3 516.36 507.53 514.24 508.88 512.22 C510.22 510.21 511.68 508.27 513.23 506.43 C514.79 504.58 516.45 502.82 518.21 501.16 C519.96 499.5 521.83 497.94 523.77 496.46 C525.71 494.98 527.75 493.6 529.83 492.28 C531.91 490.96 534.07 489.72 536.26 488.52 C538.44 487.32 540.68 486.2 542.92 485.1 C545.17 484 547.46 482.96 549.74 481.94 C552.02 480.92 554.32 479.94 556.6 478.97 C558.89 478 561.17 477.06 563.42 476.12 C565.67 475.17 568.99 473.77 570.1 473.3 L679 473.25 L679 597.8 L487.7 597.8 Z" fill="#d40000" stroke="none"/>
<path d="M492.4 597.6 C492.36 596.39 492.18 592.76 492.18 590.32 C492.19 587.89 492.26 585.43 492.41 582.99 C492.56 580.54 492.79 578.09 493.08 575.64 C493.38 573.2 493.75 570.75 494.19 568.33 C494.64 565.9 495.15 563.48 495.74 561.08 C496.33 558.69 496.99 556.31 497.73 553.96 C498.46 551.61 499.27 549.28 500.15 546.99 C501.03 544.69 501.98 542.43 503 540.21 C504.02 538 505.12 535.81 506.29 533.68 C507.45 531.55 508.69 529.47 510 527.44 C511.31 525.41 512.69 523.43 514.14 521.52 C515.59 519.61 517.11 517.75 518.7 515.97 C520.3 514.18 521.96 512.47 523.69 510.82 C525.42 509.17 527.22 507.6 529.07 506.08 C530.92 504.57 532.84 503.12 534.81 501.74 C536.77 500.35 538.8 499.03 540.87 497.77 C542.93 496.51 545.05 495.31 547.21 494.16 C549.36 493.01 551.57 491.92 553.8 490.89 C556.03 489.85 558.3 488.87 560.59 487.94 C562.89 487.01 565.22 486.14 567.56 485.31 C569.91 484.48 572.28 483.7 574.66 482.96 C577.05 482.23 579.45 481.54 581.86 480.89 C584.27 480.25 586.7 479.64 589.12 479.08 C591.54 478.52 593.97 478 596.4 477.51 C598.82 477.02 601.25 476.58 603.66 476.16 C606.08 475.75 608.49 475.37 610.88 475.02 C613.27 474.68 615.65 474.36 618 474.07 C620.36 473.79 623.83 473.43 625 473.3 L679 473.25 L679 597.8 L492.4 597.8 Z" fill="#b50000" stroke="none"/>
<path d="M497.7 597.6 C497.65 596.34 497.41 592.57 497.41 590.07 C497.42 587.56 497.52 585.06 497.72 582.57 C497.93 580.09 498.23 577.61 498.62 575.16 C499.01 572.71 499.5 570.27 500.08 567.87 C500.66 565.47 501.33 563.08 502.09 560.74 C502.85 558.4 503.71 556.09 504.65 553.82 C505.58 551.56 506.61 549.33 507.72 547.15 C508.83 544.98 510.03 542.84 511.31 540.77 C512.58 538.7 513.95 536.68 515.39 534.72 C516.83 532.77 518.35 530.87 519.94 529.05 C521.54 527.23 523.22 525.47 524.97 523.79 C526.72 522.11 528.55 520.51 530.44 518.98 C532.34 517.46 534.31 516.03 536.34 514.66 C538.37 513.3 540.47 512.02 542.61 510.8 C544.74 509.58 546.94 508.43 549.17 507.33 C551.39 506.24 553.67 505.21 555.96 504.23 C558.25 503.25 560.58 502.33 562.91 501.45 C565.25 500.56 567.6 499.73 569.97 498.93 C572.33 498.13 574.71 497.38 577.1 496.66 C579.49 495.93 581.89 495.25 584.28 494.59 C586.68 493.92 589.09 493.3 591.49 492.69 C593.9 492.08 596.3 491.5 598.71 490.93 C601.11 490.37 603.51 489.82 605.92 489.3 C608.32 488.78 610.73 488.27 613.13 487.78 C615.54 487.3 617.94 486.83 620.35 486.38 C622.76 485.93 625.16 485.49 627.58 485.07 C629.99 484.65 632.4 484.25 634.82 483.85 C637.23 483.46 639.65 483.09 642.08 482.72 C644.5 482.36 646.93 482 649.36 481.66 C651.79 481.32 654.23 480.99 656.67 480.67 C659.11 480.35 661.56 480.04 664.01 479.73 C666.46 479.43 668.92 479.13 671.39 478.85 C673.85 478.56 677.56 478.14 678.8 478 L679 597.8 L497.7 597.8 Z" fill="#8a0000" stroke="none"/>
<path d="M505.6 597.6 C505.66 596.43 505.79 592.95 505.96 590.56 C506.13 588.16 506.34 585.69 506.63 583.24 C506.92 580.78 507.26 578.27 507.7 575.8 C508.14 573.33 508.65 570.84 509.27 568.42 C509.89 565.99 510.6 563.57 511.43 561.24 C512.27 558.92 513.2 556.63 514.28 554.45 C515.35 552.27 516.56 550.18 517.89 548.19 C519.23 546.2 520.7 544.31 522.27 542.51 C523.83 540.7 525.52 538.99 527.28 537.36 C529.04 535.72 530.9 534.18 532.81 532.69 C534.72 531.21 536.72 529.81 538.74 528.46 C540.77 527.11 542.86 525.83 544.96 524.6 C547.06 523.37 549.2 522.2 551.35 521.08 C553.51 519.95 555.69 518.88 557.89 517.86 C560.09 516.83 562.31 515.86 564.55 514.92 C566.79 513.99 569.06 513.1 571.33 512.25 C573.61 511.4 575.91 510.59 578.22 509.82 C580.53 509.05 582.86 508.32 585.2 507.62 C587.54 506.91 589.9 506.25 592.26 505.62 C594.63 504.98 597.01 504.38 599.39 503.8 C601.78 503.22 604.17 502.68 606.58 502.15 C608.98 501.62 611.39 501.12 613.81 500.64 C616.22 500.16 618.64 499.71 621.07 499.26 C623.49 498.82 625.92 498.4 628.35 497.98 C630.77 497.57 633.2 497.18 635.63 496.79 C638.06 496.41 640.49 496.03 642.91 495.66 C645.34 495.3 647.76 494.94 650.18 494.58 C652.59 494.23 655 493.88 657.41 493.52 C659.81 493.17 662.21 492.82 664.6 492.47 C666.98 492.12 669.36 491.76 671.73 491.4 C674.1 491.04 677.62 490.48 678.8 490.3 L679 597.8 L505.6 597.8 Z" fill="#6a0000" stroke="none"/>
<path d="M518.1 597.6 C518.15 596.32 518.16 592.43 518.41 589.93 C518.67 587.43 519.08 584.98 519.62 582.59 C520.16 580.2 520.84 577.87 521.64 575.59 C522.44 573.31 523.37 571.1 524.4 568.94 C525.44 566.78 526.6 564.68 527.85 562.64 C529.09 560.6 530.45 558.62 531.89 556.7 C533.33 554.78 534.86 552.92 536.46 551.13 C538.07 549.33 539.76 547.59 541.5 545.92 C543.24 544.25 545.06 542.64 546.92 541.1 C548.79 539.55 550.71 538.07 552.67 536.66 C554.62 535.24 556.63 533.89 558.67 532.6 C560.71 531.31 562.79 530.09 564.9 528.91 C567.02 527.74 569.17 526.63 571.35 525.58 C573.54 524.52 575.75 523.52 577.99 522.57 C580.24 521.62 582.51 520.73 584.8 519.88 C587.1 519.03 589.42 518.24 591.76 517.49 C594.1 516.74 596.47 516.04 598.84 515.38 C601.22 514.72 603.62 514.1 606.03 513.53 C608.44 512.95 610.87 512.42 613.3 511.92 C615.73 511.43 618.18 510.97 620.63 510.55 C623.08 510.12 625.54 509.73 628 509.38 C630.45 509.02 632.92 508.7 635.38 508.4 C637.84 508.11 640.3 507.84 642.76 507.6 C645.21 507.36 647.66 507.15 650.11 506.96 C652.55 506.77 654.99 506.6 657.41 506.45 C659.83 506.3 662.24 506.18 664.64 506.07 C667.03 505.96 669.42 505.87 671.78 505.79 C674.14 505.71 677.63 505.63 678.8 505.6 L679 597.8 L518.1 597.8 Z" fill="#4a0000" stroke="none"/>
<path d="M546.6 597.6 C546.6 596.25 546.38 592.11 546.58 589.48 C546.79 586.85 547.22 584.29 547.82 581.81 C548.43 579.34 549.24 576.94 550.21 574.64 C551.18 572.35 552.34 570.13 553.63 568.03 C554.92 565.92 556.39 563.91 557.96 562.01 C559.54 560.11 561.27 558.32 563.09 556.63 C564.91 554.94 566.87 553.36 568.89 551.87 C570.91 550.38 573.04 548.99 575.22 547.69 C577.4 546.38 579.67 545.17 581.95 544.03 C584.24 542.89 586.59 541.83 588.95 540.84 C591.31 539.85 593.7 538.94 596.11 538.09 C598.52 537.23 600.95 536.45 603.4 535.71 C605.85 534.98 608.32 534.31 610.8 533.68 C613.28 533.05 615.78 532.48 618.29 531.95 C620.8 531.41 623.32 530.92 625.84 530.47 C628.37 530.01 630.91 529.59 633.44 529.2 C635.98 528.8 638.52 528.44 641.07 528.1 C643.61 527.75 646.15 527.43 648.69 527.12 C651.23 526.81 653.77 526.52 656.3 526.23 C658.83 525.93 661.36 525.66 663.87 525.37 C666.38 525.08 668.89 524.8 671.38 524.51 C673.86 524.21 677.56 523.75 678.8 523.6 L679 597.8 L546.6 597.8 Z" fill="#2a0000" stroke="none"/>
<path d="M662.3 597.6 C662.45 596.93 662.81 594.9 663.19 593.56 C663.58 592.23 664.04 590.89 664.58 589.6 C665.13 588.31 665.76 587.03 666.46 585.82 C667.17 584.61 667.96 583.44 668.83 582.35 C669.7 581.27 670.65 580.23 671.67 579.31 C672.7 578.39 673.81 577.54 675 576.82 C676.19 576.1 678.17 575.3 678.8 575 L679 597.8 L662.3 597.8 Z" fill="#0b0000" stroke="none"/>
<defs><linearGradient id="fbandv" x1="0" y1="0" x2="0" y2="1"><stop offset="0" stop-color="#5a2000" stop-opacity="0"/><stop offset="0.3" stop-color="#5a2000" stop-opacity="0.1"/><stop offset="1" stop-color="#5a2000" stop-opacity="0.7"/></linearGradient></defs>
<rect x="476" y="473.75" width="4.6" height="123.55" fill="url(#fbandv)"/>
<clipPath id="fbandz1"><rect x="470" y="472.75" width="11" height="125.55"/></clipPath>
<clipPath id="fbandz2"><rect x="481" y="472.75" width="2" height="125.55"/></clipPath>
<clipPath id="fbandz3"><rect x="483" y="472.75" width="220" height="125.55"/></clipPath>
<defs><path id="fbandL" d="M662.3 597.6 C662.45 596.93 662.81 594.9 663.19 593.56 C663.58 592.23 664.04 590.89 664.58 589.6 C665.13 588.31 665.76 587.03 666.46 585.82 C667.17 584.61 667.96 583.44 668.83 582.35 C669.7 581.27 670.65 580.23 671.67 579.31 C672.7 578.39 673.81 577.54 675 576.82 C676.19 576.1 678.17 575.3 678.8 575 M546.6 597.6 C546.6 596.25 546.38 592.11 546.58 589.48 C546.79 586.85 547.22 584.29 547.82 581.81 C548.43 579.34 549.24 576.94 550.21 574.64 C551.18 572.35 552.34 570.13 553.63 568.03 C554.92 565.92 556.39 563.91 557.96 562.01 C559.54 560.11 561.27 558.32 563.09 556.63 C564.91 554.94 566.87 553.36 568.89 551.87 C570.91 550.38 573.04 548.99 575.22 547.69 C577.4 546.38 579.67 545.17 581.95 544.03 C584.24 542.89 586.59 541.83 588.95 540.84 C591.31 539.85 593.7 538.94 596.11 538.09 C598.52 537.23 600.95 536.45 603.4 535.71 C605.85 534.98 608.32 534.31 610.8 533.68 C613.28 533.05 615.78 532.48 618.29 531.95 C620.8 531.41 623.32 530.92 625.84 530.47 C628.37 530.01 630.91 529.59 633.44 529.2 C635.98 528.8 638.52 528.44 641.07 528.1 C643.61 527.75 646.15 527.43 648.69 527.12 C651.23 526.81 653.77 526.52 656.3 526.23 C658.83 525.93 661.36 525.66 663.87 525.37 C666.38 525.08 668.89 524.8 671.38 524.51 C673.86 524.21 677.56 523.75 678.8 523.6 M518.1 597.6 C518.15 596.32 518.16 592.43 518.41 589.93 C518.67 587.43 519.08 584.98 519.62 582.59 C520.16 580.2 520.84 577.87 521.64 575.59 C522.44 573.31 523.37 571.1 524.4 568.94 C525.44 566.78 526.6 564.68 527.85 562.64 C529.09 560.6 530.45 558.62 531.89 556.7 C533.33 554.78 534.86 552.92 536.46 551.13 C538.07 549.33 539.76 547.59 541.5 545.92 C543.24 544.25 545.06 542.64 546.92 541.1 C548.79 539.55 550.71 538.07 552.67 536.66 C554.62 535.24 556.63 533.89 558.67 532.6 C560.71 531.31 562.79 530.09 564.9 528.91 C567.02 527.74 569.17 526.63 571.35 525.58 C573.54 524.52 575.75 523.52 577.99 522.57 C580.24 521.62 582.51 520.73 584.8 519.88 C587.1 519.03 589.42 518.24 591.76 517.49 C594.1 516.74 596.47 516.04 598.84 515.38 C601.22 514.72 603.62 514.1 606.03 513.53 C608.44 512.95 610.87 512.42 613.3 511.92 C615.73 511.43 618.18 510.97 620.63 510.55 C623.08 510.12 625.54 509.73 628 509.38 C630.45 509.02 632.92 508.7 635.38 508.4 C637.84 508.11 640.3 507.84 642.76 507.6 C645.21 507.36 647.66 507.15 650.11 506.96 C652.55 506.77 654.99 506.6 657.41 506.45 C659.83 506.3 662.24 506.18 664.64 506.07 C667.03 505.96 669.42 505.87 671.78 505.79 C674.14 505.71 677.63 505.63 678.8 505.6 M505.6 597.6 C505.66 596.43 505.79 592.95 505.96 590.56 C506.13 588.16 506.34 585.69 506.63 583.24 C506.92 580.78 507.26 578.27 507.7 575.8 C508.14 573.33 508.65 570.84 509.27 568.42 C509.89 565.99 510.6 563.57 511.43 561.24 C512.27 558.92 513.2 556.63 514.28 554.45 C515.35 552.27 516.56 550.18 517.89 548.19 C519.23 546.2 520.7 544.31 522.27 542.51 C523.83 540.7 525.52 538.99 527.28 537.36 C529.04 535.72 530.9 534.18 532.81 532.69 C534.72 531.21 536.72 529.81 538.74 528.46 C540.77 527.11 542.86 525.83 544.96 524.6 C547.06 523.37 549.2 522.2 551.35 521.08 C553.51 519.95 555.69 518.88 557.89 517.86 C560.09 516.83 562.31 515.86 564.55 514.92 C566.79 513.99 569.06 513.1 571.33 512.25 C573.61 511.4 575.91 510.59 578.22 509.82 C580.53 509.05 582.86 508.32 585.2 507.62 C587.54 506.91 589.9 506.25 592.26 505.62 C594.63 504.98 597.01 504.38 599.39 503.8 C601.78 503.22 604.17 502.68 606.58 502.15 C608.98 501.62 611.39 501.12 613.81 500.64 C616.22 500.16 618.64 499.71 621.07 499.26 C623.49 498.82 625.92 498.4 628.35 497.98 C630.77 497.57 633.2 497.18 635.63 496.79 C638.06 496.41 640.49 496.03 642.91 495.66 C645.34 495.3 647.76 494.94 650.18 494.58 C652.59 494.23 655 493.88 657.41 493.52 C659.81 493.17 662.21 492.82 664.6 492.47 C666.98 492.12 669.36 491.76 671.73 491.4 C674.1 491.04 677.62 490.48 678.8 490.3 M497.7 597.6 C497.65 596.34 497.41 592.57 497.41 590.07 C497.42 587.56 497.52 585.06 497.72 582.57 C497.93 580.09 498.23 577.61 498.62 575.16 C499.01 572.71 499.5 570.27 500.08 567.87 C500.66 565.47 501.33 563.08 502.09 560.74 C502.85 558.4 503.71 556.09 504.65 553.82 C505.58 551.56 506.61 549.33 507.72 547.15 C508.83 544.98 510.03 542.84 511.31 540.77 C512.58 538.7 513.95 536.68 515.39 534.72 C516.83 532.77 518.35 530.87 519.94 529.05 C521.54 527.23 523.22 525.47 524.97 523.79 C526.72 522.11 528.55 520.51 530.44 518.98 C532.34 517.46 534.31 516.03 536.34 514.66 C538.37 513.3 540.47 512.02 542.61 510.8 C544.74 509.58 546.94 508.43 549.17 507.33 C551.39 506.24 553.67 505.21 555.96 504.23 C558.25 503.25 560.58 502.33 562.91 501.45 C565.25 500.56 567.6 499.73 569.97 498.93 C572.33 498.13 574.71 497.38 577.1 496.66 C579.49 495.93 581.89 495.25 584.28 494.59 C586.68 493.92 589.09 493.3 591.49 492.69 C593.9 492.08 596.3 491.5 598.71 490.93 C601.11 490.37 603.51 489.82 605.92 489.3 C608.32 488.78 610.73 488.27 613.13 487.78 C615.54 487.3 617.94 486.83 620.35 486.38 C622.76 485.93 625.16 485.49 627.58 485.07 C629.99 484.65 632.4 484.25 634.82 483.85 C637.23 483.46 639.65 483.09 642.08 482.72 C644.5 482.36 646.93 482 649.36 481.66 C651.79 481.32 654.23 480.99 656.67 480.67 C659.11 480.35 661.56 480.04 664.01 479.73 C666.46 479.43 668.92 479.13 671.39 478.85 C673.85 478.56 677.56 478.14 678.8 478 M492.4 597.6 C492.36 596.39 492.18 592.76 492.18 590.32 C492.19 587.89 492.26 585.43 492.41 582.99 C492.56 580.54 492.79 578.09 493.08 575.64 C493.38 573.2 493.75 570.75 494.19 568.33 C494.64 565.9 495.15 563.48 495.74 561.08 C496.33 558.69 496.99 556.31 497.73 553.96 C498.46 551.61 499.27 549.28 500.15 546.99 C501.03 544.69 501.98 542.43 503 540.21 C504.02 538 505.12 535.81 506.29 533.68 C507.45 531.55 508.69 529.47 510 527.44 C511.31 525.41 512.69 523.43 514.14 521.52 C515.59 519.61 517.11 517.75 518.7 515.97 C520.3 514.18 521.96 512.47 523.69 510.82 C525.42 509.17 527.22 507.6 529.07 506.08 C530.92 504.57 532.84 503.12 534.81 501.74 C536.77 500.35 538.8 499.03 540.87 497.77 C542.93 496.51 545.05 495.31 547.21 494.16 C549.36 493.01 551.57 491.92 553.8 490.89 C556.03 489.85 558.3 488.87 560.59 487.94 C562.89 487.01 565.22 486.14 567.56 485.31 C569.91 484.48 572.28 483.7 574.66 482.96 C577.05 482.23 579.45 481.54 581.86 480.89 C584.27 480.25 586.7 479.64 589.12 479.08 C591.54 478.52 593.97 478 596.4 477.51 C598.82 477.02 601.25 476.58 603.66 476.16 C606.08 475.75 608.49 475.37 610.88 475.02 C613.27 474.68 615.65 474.36 618 474.07 C620.36 473.79 623.83 473.43 625 473.3 M487.7 597.6 C487.72 596.35 487.71 592.6 487.81 590.13 C487.9 587.65 488.05 585.19 488.25 582.74 C488.46 580.29 488.72 577.85 489.02 575.42 C489.32 572.99 489.68 570.57 490.08 568.15 C490.48 565.73 490.93 563.32 491.41 560.91 C491.9 558.5 492.43 556.09 492.99 553.68 C493.56 551.27 494.15 548.86 494.8 546.45 C495.44 544.04 496.12 541.62 496.85 539.24 C497.59 536.85 498.37 534.46 499.22 532.12 C500.07 529.78 500.97 527.46 501.96 525.19 C502.95 522.92 503.99 520.68 505.15 518.52 C506.3 516.36 507.53 514.24 508.88 512.22 C510.22 510.21 511.68 508.27 513.23 506.43 C514.79 504.58 516.45 502.82 518.21 501.16 C519.96 499.5 521.83 497.94 523.77 496.46 C525.71 494.98 527.75 493.6 529.83 492.28 C531.91 490.96 534.07 489.72 536.26 488.52 C538.44 487.32 540.68 486.2 542.92 485.1 C545.17 484 547.46 482.96 549.74 481.94 C552.02 480.92 554.32 479.94 556.6 478.97 C558.89 478 561.17 477.06 563.42 476.12 C565.67 475.17 568.99 473.77 570.1 473.3 M484.6 597.6 C484.61 596.32 484.58 592.45 484.66 589.9 C484.74 587.36 484.9 584.83 485.09 582.31 C485.29 579.79 485.55 577.29 485.85 574.8 C486.15 572.3 486.5 569.81 486.87 567.33 C487.25 564.84 487.67 562.36 488.11 559.87 C488.55 557.39 489.03 554.9 489.52 552.41 C490 549.91 490.51 547.41 491.03 544.9 C491.56 542.4 492.1 539.88 492.69 537.38 C493.28 534.89 493.9 532.38 494.58 529.92 C495.27 527.45 495.99 524.99 496.8 522.58 C497.62 520.17 498.48 517.78 499.46 515.45 C500.43 513.11 501.48 510.82 502.63 508.59 C503.79 506.36 505.04 504.17 506.39 502.07 C507.74 499.97 509.19 497.93 510.75 495.98 C512.3 494.03 513.95 492.15 515.7 490.37 C517.45 488.6 519.32 486.91 521.27 485.33 C523.22 483.74 525.28 482.26 527.39 480.86 C529.5 479.45 531.7 478.14 533.92 476.88 C536.14 475.62 539.57 473.9 540.7 473.3 M482.5 597.6 C482.61 596.42 482.95 592.92 483.16 590.54 C483.37 588.16 483.57 585.74 483.77 583.31 C483.97 580.88 484.16 578.43 484.36 575.96 C484.56 573.49 484.76 571.01 484.98 568.52 C485.2 566.02 485.42 563.52 485.67 561.01 C485.92 558.5 486.18 555.99 486.48 553.48 C486.77 550.97 487.08 548.45 487.44 545.95 C487.79 543.45 488.17 540.95 488.59 538.46 C489.02 535.98 489.47 533.5 489.99 531.05 C490.5 528.6 491.05 526.16 491.66 523.74 C492.27 521.33 492.93 518.94 493.66 516.58 C494.39 514.22 495.17 511.88 496.02 509.58 C496.88 507.29 497.79 505.02 498.79 502.8 C499.79 500.58 500.86 498.39 502.02 496.26 C503.18 494.12 504.41 492.03 505.75 490 C507.08 487.97 508.5 485.98 510.02 484.06 C511.55 482.14 513.16 480.28 514.89 478.48 C516.62 476.69 519.48 474.16 520.4 473.3 M481 597.6 C481.04 596.36 481.13 592.64 481.21 590.15 C481.3 587.65 481.39 585.15 481.5 582.64 C481.61 580.14 481.73 577.62 481.88 575.11 C482.02 572.59 482.18 570.07 482.36 567.55 C482.55 565.02 482.75 562.5 482.98 559.98 C483.21 557.45 483.46 554.93 483.74 552.41 C484.03 549.89 484.33 547.38 484.67 544.87 C485.02 542.36 485.39 539.85 485.79 537.35 C486.2 534.85 486.64 532.36 487.12 529.88 C487.59 527.4 488.11 524.92 488.66 522.47 C489.22 520.01 489.81 517.56 490.45 515.12 C491.1 512.69 491.78 510.27 492.51 507.86 C493.24 505.46 494.02 503.07 494.85 500.7 C495.68 498.33 496.55 495.98 497.48 493.65 C498.42 491.32 499.4 489.01 500.44 486.73 C501.49 484.44 502.58 482.18 503.74 479.94 C504.9 477.7 506.79 474.41 507.4 473.3 M480 597.6 C479.99 596.36 479.92 592.66 479.92 590.18 C479.93 587.71 479.95 585.24 480.01 582.77 C480.06 580.3 480.14 577.82 480.24 575.35 C480.35 572.88 480.48 570.41 480.63 567.94 C480.79 565.48 480.97 563.01 481.17 560.54 C481.37 558.08 481.6 555.61 481.86 553.15 C482.11 550.69 482.38 548.23 482.68 545.77 C482.98 543.31 483.31 540.86 483.65 538.41 C484 535.96 484.37 533.51 484.76 531.06 C485.16 528.62 485.57 526.18 486.01 523.74 C486.44 521.3 486.9 518.87 487.39 516.44 C487.87 514.01 488.37 511.59 488.89 509.17 C489.42 506.75 489.96 504.33 490.53 501.93 C491.1 499.52 491.68 497.11 492.29 494.71 C492.9 492.32 493.53 489.92 494.18 487.54 C494.82 485.15 495.49 482.77 496.18 480.4 C496.87 478.03 497.95 474.48 498.3 473.3 M479.2 597.6 C479.16 596.29 479.02 592.36 478.98 589.74 C478.95 587.13 478.94 584.52 478.97 581.9 C478.99 579.29 479.05 576.68 479.14 574.08 C479.23 571.47 479.34 568.87 479.48 566.26 C479.62 563.66 479.79 561.06 479.98 558.46 C480.18 555.86 480.39 553.27 480.63 550.67 C480.87 548.08 481.13 545.49 481.41 542.89 C481.69 540.3 481.99 537.71 482.31 535.13 C482.63 532.54 482.96 529.95 483.31 527.37 C483.66 524.79 484.03 522.2 484.4 519.62 C484.78 517.04 485.17 514.46 485.57 511.88 C485.97 509.3 486.39 506.73 486.81 504.15 C487.22 501.58 487.65 499 488.09 496.43 C488.52 493.86 488.96 491.28 489.41 488.71 C489.85 486.14 490.3 483.57 490.75 481 C491.2 478.43 491.87 474.58 492.1 473.3 M478.6 597.6 C478.58 596.3 478.51 592.39 478.5 589.79 C478.48 587.19 478.5 584.59 478.53 581.99 C478.56 579.39 478.62 576.79 478.69 574.2 C478.76 571.6 478.86 569 478.97 566.41 C479.08 563.81 479.21 561.22 479.36 558.63 C479.5 556.03 479.66 553.44 479.84 550.85 C480.01 548.26 480.21 545.67 480.41 543.08 C480.61 540.49 480.83 537.9 481.05 535.31 C481.28 532.72 481.52 530.13 481.76 527.55 C482.01 524.96 482.27 522.37 482.53 519.79 C482.79 517.2 483.06 514.62 483.34 512.03 C483.62 509.45 483.9 506.86 484.19 504.28 C484.47 501.7 484.76 499.12 485.05 496.53 C485.35 493.95 485.64 491.37 485.94 488.79 C486.23 486.2 486.53 483.62 486.82 481.04 C487.12 478.46 487.55 474.59 487.7 473.3 M478.1 597.6 C478.1 596.3 478.08 592.41 478.09 589.81 C478.09 587.22 478.12 584.62 478.16 582.03 C478.2 579.44 478.25 576.84 478.31 574.25 C478.37 571.66 478.45 569.06 478.54 566.47 C478.63 563.88 478.72 561.29 478.83 558.7 C478.94 556.11 479.06 553.52 479.19 550.93 C479.32 548.34 479.45 545.75 479.6 543.16 C479.74 540.57 479.89 537.98 480.05 535.39 C480.21 532.8 480.38 530.21 480.55 527.62 C480.72 525.03 480.9 522.45 481.08 519.86 C481.26 517.27 481.45 514.68 481.64 512.1 C481.83 509.51 482.02 506.92 482.22 504.33 C482.41 501.75 482.61 499.16 482.81 496.57 C483.01 493.99 483.21 491.4 483.41 488.82 C483.61 486.23 483.81 483.64 484.01 481.06 C484.21 478.47 484.5 474.59 484.6 473.3 M477.7 597.6 C477.71 596.3 477.72 592.42 477.74 589.82 C477.76 587.23 477.79 584.64 477.82 582.05 C477.86 579.46 477.9 576.86 477.95 574.27 C478 571.68 478.06 569.09 478.13 566.5 C478.19 563.91 478.26 561.32 478.34 558.73 C478.41 556.13 478.5 553.54 478.59 550.95 C478.67 548.36 478.77 545.77 478.87 543.18 C478.97 540.59 479.08 538 479.19 535.41 C479.3 532.82 479.41 530.23 479.53 527.65 C479.65 525.06 479.78 522.47 479.91 519.88 C480.03 517.29 480.17 514.7 480.31 512.11 C480.44 509.52 480.58 506.93 480.73 504.35 C480.87 501.76 481.02 499.17 481.17 496.58 C481.32 494 481.48 491.41 481.63 488.82 C481.79 486.23 481.95 483.65 482.11 481.06 C482.27 478.47 482.52 474.59 482.6 473.3 M477.3 597.6 C477.32 596.3 477.36 592.42 477.4 589.83 C477.43 587.24 477.47 584.65 477.51 582.06 C477.55 579.47 477.59 576.88 477.64 574.29 C477.68 571.7 477.73 569.11 477.77 566.52 C477.82 563.93 477.87 561.34 477.93 558.75 C477.98 556.16 478.03 553.57 478.09 550.98 C478.15 548.39 478.21 545.8 478.27 543.21 C478.33 540.62 478.4 538.03 478.47 535.44 C478.53 532.85 478.6 530.26 478.68 527.67 C478.75 525.08 478.83 522.49 478.9 519.9 C478.98 517.31 479.06 514.72 479.14 512.13 C479.23 509.54 479.31 506.95 479.4 504.36 C479.49 501.78 479.58 499.19 479.68 496.6 C479.77 494.01 479.87 491.42 479.97 488.83 C480.07 486.24 480.17 483.65 480.27 481.07 C480.38 478.48 480.55 474.59 480.6 473.3"/></defs>
<g clip-path="url(#fbandz1)"><use href="#fbandL" fill="none" stroke="#000" stroke-linejoin="round" stroke-width="0.75"/></g>
<g clip-path="url(#fbandz2)"><use href="#fbandL" fill="none" stroke="#000" stroke-linejoin="round" stroke-width="0.8"/></g>
<g clip-path="url(#fbandz3)"><use href="#fbandL" fill="none" stroke="#000" stroke-linejoin="round" stroke-width="1.05"/></g>
<path d="M473 473.25 L475.8 473.25 L477.1 597.8 L473 597.8 Z" fill="#000"/>
</g>
<rect x="473.6" y="473.75" width="204.85" height="123.55" fill="none" stroke="#000" stroke-width="1.1" stroke-linejoin="round"/>
<path d="M473.6 473.75 V597.3 H678.45" fill="none" stroke="#000" stroke-width="1.1" stroke-linejoin="round" stroke-opacity="0.8"/>
<path d="M524.1 597.3 v-2.4 M524.1 473.75 v2.4" stroke="#000" stroke-width="1.1" fill="none"/>
<path d="M575.5 597.3 v-2.4 M575.5 473.75 v2.4" stroke="#000" stroke-width="1.1" fill="none"/>
<path d="M626.9 597.3 v-2.4 M626.9 473.75 v2.4" stroke="#000" stroke-width="1.1" fill="none"/>
<path d="M473.6 515.5 h2.4 M678.45 515.5 h-2.4" stroke="#000" stroke-width="1.1" fill="none"/>
<path d="M473.6 557.25 h2.4 M678.45 557.25 h-2.4" stroke="#000" stroke-width="1.1" fill="none"/>
<text transform="translate(469.1 479.45) scale(0.94 1)" font-size="17.4" text-anchor="end">1.5</text>
<text transform="translate(469.1 521.2) scale(0.94 1)" font-size="17.4" text-anchor="end">1</text>
<text transform="translate(469.1 562.95) scale(0.94 1)" font-size="17.4" text-anchor="end">0.5</text>
<text transform="translate(524.1 616.9) scale(0.94 1)" font-size="17.4" text-anchor="middle">500</text>
<text transform="translate(575.5 616.9) scale(0.94 1)" font-size="17.4" text-anchor="middle">1000</text>
<text transform="translate(626.9 616.9) scale(0.94 1)" font-size="17.4" text-anchor="middle">1500</text>
<text transform="translate(678.3 616.9) scale(0.94 1)" font-size="17.4" text-anchor="middle">2000</text>
<text x="576.2" y="642.5" font-size="24.6" text-anchor="middle">Mean</text>
<text x="433.6" y="536.73" font-size="24.6" text-anchor="middle" transform="rotate(-90 433.6 536.73)">CV</text>
<text x="426.2" y="469.7" font-size="22" text-anchor="start">F</text>
<rect x="702.9" y="474.25" width="32.7" height="123.55" fill="url(#hot)"/>
<rect x="702.9" y="474.25" width="32.7" height="123.55" fill="none" stroke="#000" stroke-width="1.1" stroke-linejoin="round"/>
<path d="M702.9 500.8 h1.8 M735.6 500.8 h-1.8" stroke="#000" stroke-width="1" fill="none"/>
<text transform="translate(740.2 507.2) scale(0.94 1)" font-size="17.4" text-anchor="start">20</text>
<path d="M702.9 548.9 h1.8 M735.6 548.9 h-1.8" stroke="#000" stroke-width="1" fill="none"/>
<text transform="translate(740.2 555.3) scale(0.94 1)" font-size="17.4" text-anchor="start">10</text>
<path d="M702.9 597.4 h1.8 M735.6 597.4 h-1.8" stroke="#000" stroke-width="1" fill="none"/>
<text transform="translate(740.2 603.8) scale(0.94 1)" font-size="17.4" text-anchor="start">0</text>
</svg>
</body></html>
